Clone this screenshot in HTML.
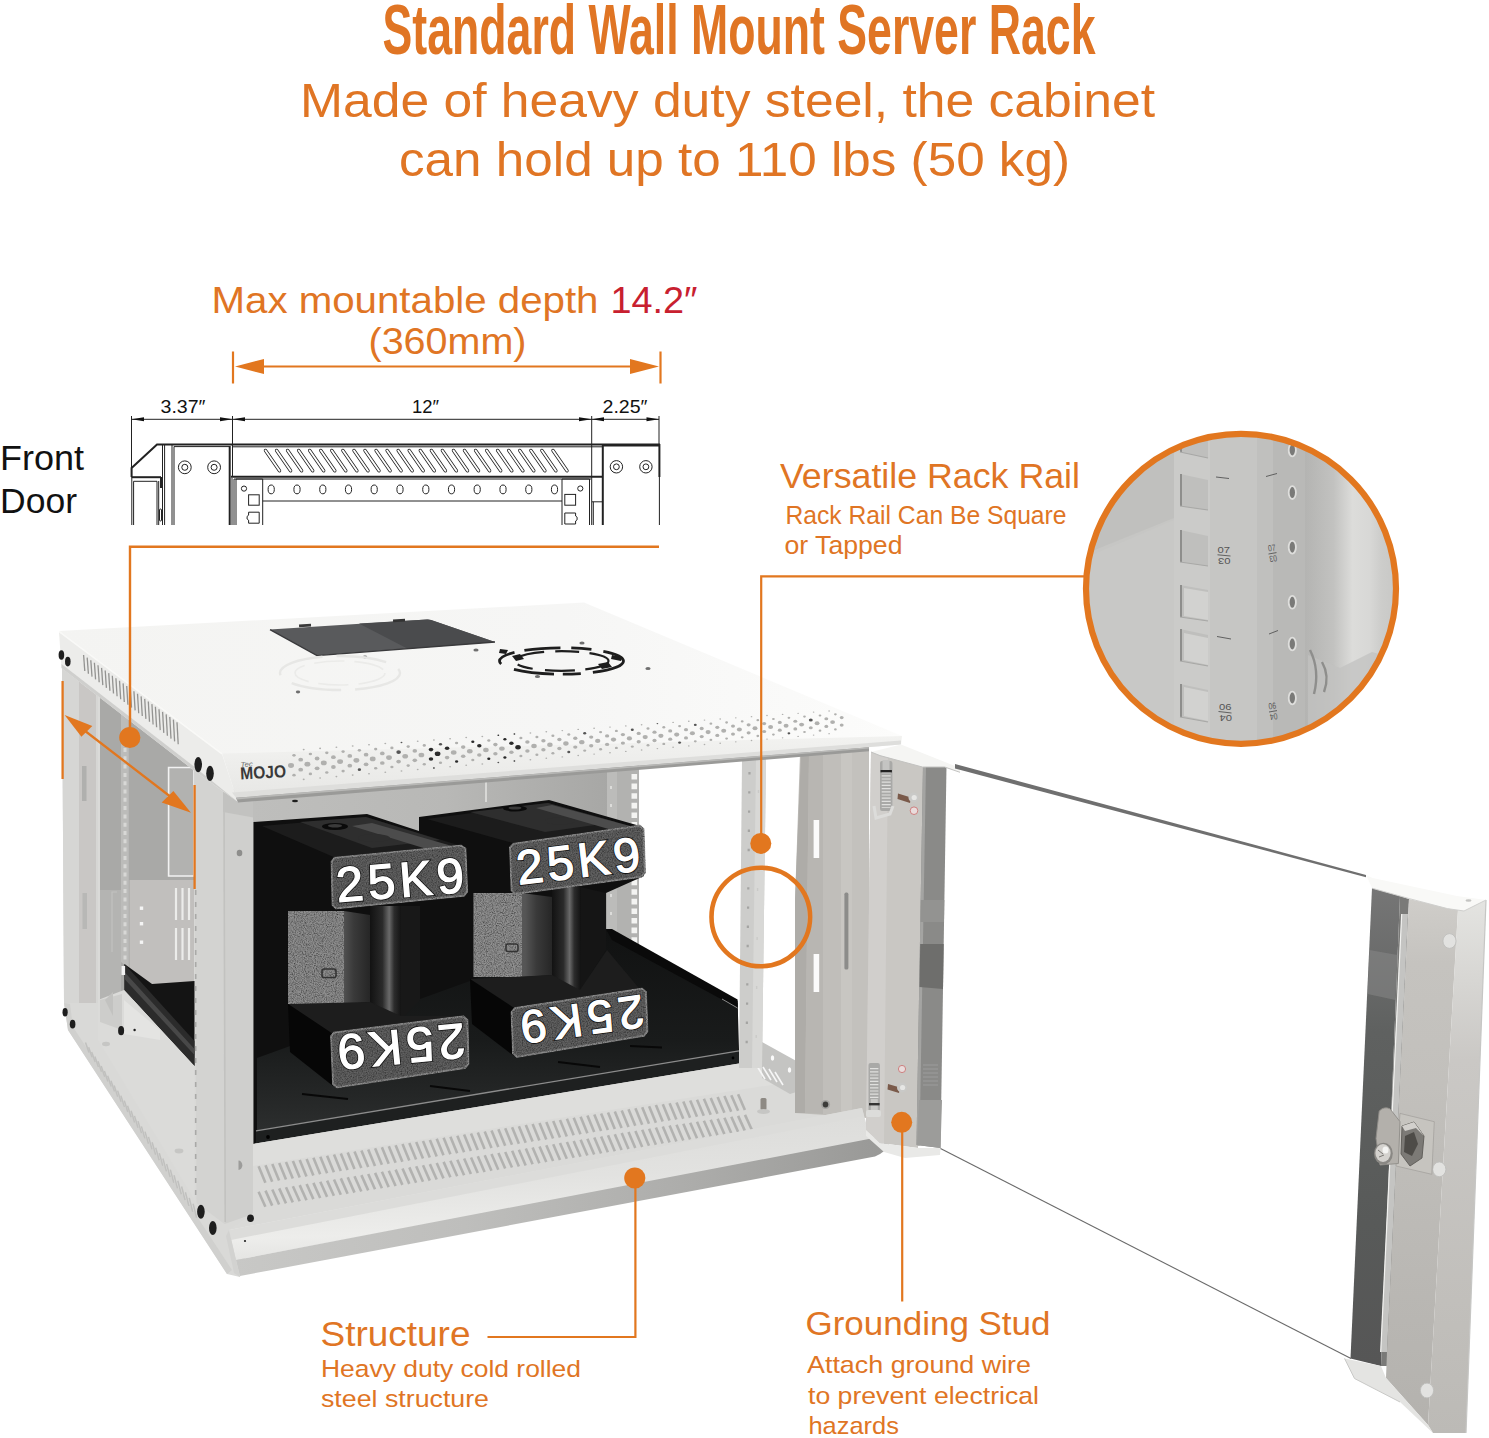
<!DOCTYPE html>
<html lang="en">
<head>
<meta charset="utf-8">
<title>Standard Wall Mount Server Rack</title>
<style>
html,body{margin:0;padding:0;background:#fff;}
body{width:1489px;height:1438px;overflow:hidden;position:relative;font-family:"Liberation Sans",sans-serif;}
svg{position:absolute;left:0;top:0;display:block;}
.o{fill:#e07524;}
.os{stroke:#e2771f;fill:none;}
.of{fill:#e2771f;}
text{font-family:"Liberation Sans",sans-serif;}
.k{stroke:#222;fill:none;stroke-width:1;}
.kt{stroke:#222;fill:none;stroke-width:2;}
</style>
</head>
<body>
<svg width="1489" height="1438" viewBox="0 0 1489 1438">
<rect x="0" y="0" width="1489" height="1438" fill="#ffffff"/>
<defs>
<linearGradient id="gShelf" x1="0" y1="0" x2="0" y2="1">
<stop offset="0" stop-color="#111212"/><stop offset="0.55" stop-color="#191b1b"/><stop offset="1" stop-color="#2c2e2e"/>
</linearGradient>
<linearGradient id="gLip" x1="0" y1="0" x2="0.12" y2="1">
<stop offset="0" stop-color="#dadad8"/><stop offset="0.5" stop-color="#e2e2e0"/><stop offset="0.85" stop-color="#ededeb"/><stop offset="1" stop-color="#e4e4e2"/>
</linearGradient>
<linearGradient id="gTopLip" x1="0" y1="0" x2="0.08" y2="1">
<stop offset="0" stop-color="#f3f3f1"/><stop offset="1" stop-color="#e6e6e4"/>
</linearGradient>
<linearGradient id="gGlassL" x1="0" y1="0" x2="1" y2="0">
<stop offset="0" stop-color="#8e8e8e"/><stop offset="1" stop-color="#bdbdbd"/>
</linearGradient>
<linearGradient id="gGlassR" x1="0" y1="0" x2="0" y2="1">
<stop offset="0" stop-color="#767676"/><stop offset="0.3" stop-color="#5f6160"/><stop offset="0.7" stop-color="#585a59"/><stop offset="1" stop-color="#565656"/>
</linearGradient>
<linearGradient id="gFrIn" gradientUnits="userSpaceOnUse" x1="0" y1="900" x2="0" y2="1425">
<stop offset="0" stop-color="#cfcdc9"/><stop offset="0.12" stop-color="#c5c3bf"/><stop offset="0.35" stop-color="#c2c0bc"/><stop offset="0.8" stop-color="#b8b6b2"/><stop offset="1" stop-color="#b4b2ae"/>
</linearGradient>
<linearGradient id="gFrEd" gradientUnits="userSpaceOnUse" x1="0" y1="900" x2="0" y2="1433">
<stop offset="0" stop-color="#e4e4e1"/><stop offset="0.3" stop-color="#cac8c5"/><stop offset="0.8" stop-color="#c0beba"/><stop offset="1" stop-color="#bcbab6"/>
</linearGradient>
<linearGradient id="gCol" x1="0" y1="0" x2="1" y2="0">
<stop offset="0" stop-color="#121212"/><stop offset="0.4" stop-color="#2a2a2a"/><stop offset="0.62" stop-color="#6a6a6a"/><stop offset="0.78" stop-color="#2c2c2c"/><stop offset="1" stop-color="#141414"/>
</linearGradient>
<linearGradient id="gWeb" x1="0" y1="0" x2="1" y2="0">
<stop offset="0" stop-color="#6e6e6e"/><stop offset="0.66" stop-color="#555"/><stop offset="0.8" stop-color="#3a3a3a"/><stop offset="1" stop-color="#262626"/>
</linearGradient>
<linearGradient id="gMagBg" x1="0" y1="0" x2="1" y2="0">
<stop offset="0" stop-color="#c4c4c2"/><stop offset="1" stop-color="#c8c8c6"/>
</linearGradient>
<linearGradient id="gMagR" gradientUnits="userSpaceOnUse" x1="1305" y1="0" x2="1400" y2="0">
<stop offset="0" stop-color="#b4b4b2"/><stop offset="0.3" stop-color="#c2c2c0"/><stop offset="0.5" stop-color="#dcdcda"/><stop offset="0.68" stop-color="#d8d8d6"/><stop offset="0.8" stop-color="#cdcdcb"/><stop offset="1" stop-color="#c6c6c4"/>
</linearGradient>
<linearGradient id="gTop" x1="0" y1="0" x2="1" y2="0">
<stop offset="0" stop-color="#f4f4f2"/><stop offset="0.6" stop-color="#f6f6f5"/><stop offset="1" stop-color="#fcfcfb"/>
</linearGradient>
<linearGradient id="gUnder" gradientUnits="userSpaceOnUse" x1="236" y1="0" x2="890" y2="0">
<stop offset="0" stop-color="#c8c8c6"/><stop offset="0.35" stop-color="#bebebc"/><stop offset="0.7" stop-color="#acacaa"/><stop offset="1" stop-color="#989896"/>
</linearGradient>
<linearGradient id="gInt" gradientUnits="userSpaceOnUse" x1="253" y1="0" x2="639" y2="0">
<stop offset="0" stop-color="#bebebc"/><stop offset="0.5" stop-color="#b8b8b6"/><stop offset="1" stop-color="#a4a4a2"/>
</linearGradient>
<clipPath id="cMag"><circle cx="1241" cy="588.8" r="155"/></clipPath>
<filter id="fNoise" x="0" y="0" width="100%" height="100%">
<feTurbulence type="fractalNoise" baseFrequency="0.9" numOctaves="2" seed="3" result="n"/>
<feColorMatrix in="n" type="matrix" values="0 0 0 0 0  0 0 0 0 0  0 0 0 0 0  1.6 0 0 0 -0.55" result="a"/>
<feFlood flood-color="#1a1a1a" result="f"/>
<feComposite in="f" in2="a" operator="in" result="sp"/>
<feMerge><feMergeNode in="SourceGraphic"/><feMergeNode in="sp"/></feMerge>
<feComposite in2="SourceGraphic" operator="in"/>
</filter>
<filter id="fNoise2" x="-2%" y="-2%" width="104%" height="104%">
<feTurbulence type="fractalNoise" baseFrequency="0.8" numOctaves="2" seed="9" result="n"/>
<feColorMatrix in="n" type="matrix" values="0 0 0 0 0  0 0 0 0 0  0 0 0 0 0  1.5 0 0 0 -0.5" result="a"/>
<feFlood flood-color="#161616" result="f"/>
<feComposite in="f" in2="a" operator="in" result="sp"/>
<feMerge><feMergeNode in="SourceGraphic"/><feMergeNode in="sp"/></feMerge>
<feComposite in2="SourceGraphic" operator="in"/>
</filter>
</defs>
<!-- ================= CABINET : LEFT SIDE ================= -->
<g id="cab-left">
<!-- floor / base seen through the open side -->
<polygon points="62,668 196,770 256,800 256,1215 240,1277 227,1274 68,1030 64,1003" fill="#d9d9d7"/>
<!-- silhouette shade band along bottom-left edge -->
<polygon points="64,1003 68,1030 227,1274 232,1270 73,1027 70,1004" fill="#d0d0ce"/>
<!-- grey interior wall -->
<polygon points="98,696 194,770 194,1000 98,1000" fill="#a9a9a7"/>
<polygon points="129.6,880 194,880 194,985 152,984 129.6,968" fill="#c1bfbd"/>
<polygon points="98,696 121,713 121,1000 98,1000" fill="#a9a9a7"/>
<polygon points="98,890 121,890 121,1000 98,1000" fill="#b4b4b2"/>
<polygon points="96,694 100,697 100,1000 96,1000" fill="#dadad8"/>
<!-- white outlined rectangle on back wall -->
<polygon points="168.6,767.5 194,767.5 194,876 168.6,876" fill="#b2b2b0" stroke="#f2f2f2" stroke-width="1.6"/>
<!-- vertical slots on back wall -->
<g stroke="#ececea" stroke-width="2.2">
<line x1="176" y1="888" x2="176" y2="920"/><line x1="182.5" y1="888" x2="182.5" y2="920"/><line x1="189" y1="888" x2="189" y2="920"/>
<line x1="176" y1="928" x2="176" y2="960"/><line x1="182.5" y1="928" x2="182.5" y2="960"/><line x1="189" y1="928" x2="189" y2="960"/>
</g>
<rect x="139.8" y="906.5" width="3.4" height="3.4" fill="#f4f4f4"/><rect x="139.8" y="922" width="3.4" height="3.4" fill="#f4f4f4"/><rect x="139.8" y="940.5" width="3.4" height="3.4" fill="#f4f4f4"/>
<path d="M117,892 h-5 v60" stroke="#c2c2c0" stroke-width="1.2" fill="none"/>
<!-- left inner rail -->
<polygon points="121,713 128.8,719 128.8,968 121,962" fill="#bcbcba"/>
<line x1="125" y1="748" x2="125" y2="962" stroke="#d8d8d6" stroke-width="3" stroke-dasharray="4 4.3"/>
<!-- black shelf seen through the side -->
<polygon points="124.5,964 152,984 194.5,981 194.5,1066 124.5,990" fill="#141414"/>
<polygon points="124.5,964 194.5,1041 194.5,1066 124.5,990" fill="#2b2b2b"/>
<polygon points="124.5,972 194.5,1049 194.5,1055 124.5,979" fill="#484848"/>
<rect x="121.5" y="966" width="3.6" height="9" fill="#f2f2f2"/>
<!-- floor below the shelf / inner base -->
<polygon points="98,1000 124,990 194.5,1066 194.5,1200 98,1040" fill="#dbdbd9"/>
<polygon points="100,1000 122,994 122,1030 100,1022" fill="#cdcdcb"/>
<polygon points="105,1000 113,1016 113,992" fill="#c2c2c0"/>
<polygon points="124,1000 160,1030 160,1040 124,1034" fill="#e4e4e2"/>
<!-- back-left post -->
<polygon points="62,668 98,696 98,1003 64,1003" fill="#d6d6d4"/>
<polygon points="79,681 96,694 96,1003 79,1003" fill="#c9c7c5"/>
<rect x="82" y="766" width="4.5" height="35" fill="#b0b0ae"/>
<rect x="82.5" y="893" width="4.5" height="36" fill="#b8b8b6"/>
<!-- floor vents on left base -->
<g stroke="#c0c0be" stroke-width="1.5">
<line x1="85.5" y1="1042.6" x2="89.0" y2="1052.6"/>
<line x1="88.6" y1="1047.2" x2="92.1" y2="1057.3"/>
<line x1="91.7" y1="1051.9" x2="95.2" y2="1062.1"/>
<line x1="94.9" y1="1056.6" x2="98.4" y2="1066.9"/>
<line x1="98.0" y1="1061.3" x2="101.5" y2="1071.8"/>
<line x1="101.2" y1="1066.1" x2="104.7" y2="1076.7"/>
<line x1="104.4" y1="1070.9" x2="107.9" y2="1081.6"/>
<line x1="107.7" y1="1075.8" x2="111.2" y2="1086.6"/>
<line x1="111.0" y1="1080.7" x2="114.5" y2="1091.6"/>
<line x1="114.2" y1="1085.6" x2="117.7" y2="1096.7"/>
<line x1="117.6" y1="1090.6" x2="121.1" y2="1101.8"/>
<line x1="120.9" y1="1095.6" x2="124.4" y2="1106.9"/>
<line x1="124.3" y1="1100.6" x2="127.8" y2="1112.0"/>
<line x1="127.6" y1="1105.7" x2="131.1" y2="1117.2"/>
<line x1="131.1" y1="1110.8" x2="134.6" y2="1122.5"/>
<line x1="134.5" y1="1115.9" x2="138.0" y2="1127.8"/>
<line x1="138.0" y1="1121.1" x2="141.5" y2="1133.1"/>
<line x1="141.4" y1="1126.4" x2="144.9" y2="1138.4"/>
<line x1="145.0" y1="1131.6" x2="148.5" y2="1143.8"/>
<line x1="148.5" y1="1136.9" x2="152.0" y2="1149.3"/>
<line x1="152.1" y1="1142.3" x2="155.6" y2="1154.7"/>
<line x1="155.7" y1="1147.7" x2="159.2" y2="1160.2"/>
<line x1="159.3" y1="1153.1" x2="162.8" y2="1165.8"/>
<line x1="162.9" y1="1158.5" x2="166.4" y2="1171.4"/>
<line x1="166.6" y1="1164.0" x2="170.1" y2="1177.0"/>
<line x1="170.3" y1="1169.6" x2="173.8" y2="1182.7"/>
<line x1="174.0" y1="1175.2" x2="177.5" y2="1188.4"/>
<line x1="177.8" y1="1180.8" x2="181.3" y2="1194.2"/>
<line x1="181.6" y1="1186.5" x2="185.1" y2="1200.0"/>
<line x1="185.4" y1="1192.2" x2="188.9" y2="1205.9"/>
<line x1="189.2" y1="1197.9" x2="192.7" y2="1211.8"/>
<line x1="193.1" y1="1203.7" x2="196.6" y2="1217.7"/>
</g>
<!-- front-left post : side face -->
<polygon points="194,770 223,792 224.5,1224 196.5,1203" fill="#d3d3d1"/>
<line x1="195.7" y1="890" x2="195.7" y2="1200" stroke="#a9a9a7" stroke-width="1.6" stroke-dasharray="5 7"/>
<!-- front-left post : front face -->
<polygon points="223,792 256,800 256,1213 224.5,1224" fill="#cfcfcd"/>
<polygon points="223,792 256,800 256,818 223,812" fill="#c2c2c0"/>
<line x1="224" y1="796" x2="225.2" y2="1222" stroke="#c2c2c0" stroke-width="1.6"/>
<ellipse cx="239.5" cy="853" rx="2.8" ry="3.2" fill="#8e8e8c"/>
<path d="M238.5 1160.5 a3.6 4.4 0 0 1 0 9.4z" fill="#9c9c9a"/>
<g fill="#c6c6c4">
<ellipse cx="106" cy="1044" rx="4" ry="2.2"/><ellipse cx="179" cy="1151" rx="4.4" ry="2.4"/>
</g>
</g>
<!-- ================= CABINET : FRONT INTERIOR ================= -->
<g id="cab-front">
<!-- interior background (back wall), only up to the far rail -->
<polygon points="253,798 639,765 639,1000 253,1150" fill="url(#gInt)"/>
<!-- far (back-right) rail -->
<rect x="607" y="768" width="32" height="180" fill="#b2b2b0"/>
<rect x="607" y="768" width="10" height="180" fill="#bcbcba"/>
<line x1="634.3" y1="774" x2="634.3" y2="945" stroke="#f4f4f2" stroke-width="5.6" stroke-dasharray="5.6 4"/>
<line x1="611" y1="786" x2="611" y2="945" stroke="#dcdcda" stroke-width="2" stroke-dasharray="3 15"/>
<line x1="486" y1="778" x2="486" y2="802" stroke="#e4e4e2" stroke-width="1.5"/>
<!-- main dark mass (weights + interior shadow) -->
<polygon points="253.5,822 367,814 419,831 419,817 549,800 641.8,826.4 644,876 606,893 606,929 608.4,929 737.6,1001 739,1050.5 739,1064 256,1144.5 253.5,1144.5" fill="#0f0f0f"/>
<!-- shelf top surface -->
<polygon points="257,1058 608.4,931 737.6,1003 738,1050.5 257,1130.5" fill="url(#gShelf)"/>
<!-- shelf right side wall -->
<polygon points="606,929 612,929 737.6,999.5 737.6,1008 612,940" fill="#0a0a0a"/>
<line x1="722" y1="999" x2="737.6" y2="1008" stroke="#8a8a8a" stroke-width="1"/>
<!-- shelf front lip -->
<polygon points="256,1130.5 739,1050.5 739,1064 256,1144.5" fill="#1e2020"/>
<line x1="256" y1="1130.8" x2="739" y2="1050.8" stroke="#8c8c8c" stroke-width="1.3"/>
<circle cx="268" cy="1137" r="1.9" fill="#000"/><circle cx="733" cy="1058" r="1.4" fill="#000"/>
<!-- shelf slots -->
<g stroke="#080808" stroke-width="1.8">
<line x1="302" y1="1094" x2="348" y2="1099"/><line x1="430" y1="1086" x2="470" y2="1091"/><line x1="558" y1="1062" x2="600" y2="1067"/><line x1="630" y1="1046" x2="662" y2="1047.5"/>
</g>

<!-- ===== weight 1 (left) ===== -->
<polygon points="262,826 366,817 458,845 336,858" fill="#1c1c1c"/>
<polygon points="300,822 366,817 440,840 372,848" fill="#2e2e2e"/>
<polygon points="352,826 372,823 452,846 430,850" fill="#4c4c4c"/>
<ellipse cx="335" cy="826.5" rx="13" ry="3.4" fill="#0a0a0a"/><ellipse cx="335" cy="825.8" rx="7" ry="1.8" fill="#3a3a3a"/>
<ellipse cx="374" cy="838" rx="16" ry="4" fill="#2e2e2e"/>
<!-- web -->
<polygon points="288,911 344,911 370,915 370,1002 344,1004 288,1004" fill="url(#gWeb)"/>
<polygon points="288,911 344,911 344,1004 288,1004" fill="#8e8e8e" filter="url(#fNoise)"/>
<rect x="322" y="969" width="14" height="8.5" rx="2" fill="none" stroke="#333" stroke-width="1.6"/>
<!-- column -->
<rect x="370" y="906" width="31" height="116" fill="url(#gCol)"/>
<polygon points="401,906 420,906 420,1000 401,1020" fill="#181818"/>
<!-- base -->
<polygon points="288,1004 370,1002 401,1016 466,1016 466,1019 333,1034" fill="#1d1d1d"/>
<polygon points="288,1004 333,1034 333,1086 290,1052" fill="#060606"/>
<!-- top label plate -->
<polygon points="334.5,857.8 461,845.5 465.5,848.5 467.2,892 464,895.8 336,908.5 332.5,905 331.5,861.5" fill="#626262" stroke="#8c8c8c" stroke-width="2" filter="url(#fNoise2)"/>
<text transform="translate(337.5,902) rotate(-4.6)" font-size="49" fill="#111" stroke="#151515" stroke-width="3" textLength="128" lengthAdjust="spacing">25K9</text>
<text transform="translate(337.5,902) rotate(-4.6)" font-size="49" fill="#ffffff" stroke="#ffffff" stroke-width="1.3" textLength="128" lengthAdjust="spacing">25K9</text>
<!-- bottom label plate -->
<polygon points="334,1032.5 463.5,1016.2 467.5,1020 468.5,1064 465,1068 337,1087.5 333,1084 331,1036" fill="#626262" stroke="#8c8c8c" stroke-width="2" filter="url(#fNoise2)"/>
<text transform="translate(463.5,1023.5) rotate(174.4)" font-size="49" fill="#111" stroke="#151515" stroke-width="3" textLength="128" lengthAdjust="spacing">25K9</text>
<text transform="translate(463.5,1023.5) rotate(174.4)" font-size="49" fill="#ffffff" stroke="#ffffff" stroke-width="1.3" textLength="128" lengthAdjust="spacing">25K9</text>

<!-- ===== weight 2 (right) ===== -->
<polygon points="427,819 548,803 634,827 513,843" fill="#1c1c1c"/>
<polygon points="470,812 548,803 616,822 545,832" fill="#2e2e2e"/>
<polygon points="536,808 552,805 630,826 612,830" fill="#4c4c4c"/>
<ellipse cx="515" cy="808.5" rx="12" ry="3" fill="#0a0a0a"/><ellipse cx="515" cy="808" rx="6.5" ry="1.6" fill="#3a3a3a"/>
<ellipse cx="560" cy="821" rx="15" ry="3.6" fill="#2e2e2e"/>
<!-- web -->
<polygon points="473.5,893 522,893 552,897 552,975 522,977 473.5,977" fill="url(#gWeb)"/>
<polygon points="473.5,893 522,893 522,977 473.5,977" fill="#909090" filter="url(#fNoise)"/>
<rect x="506" y="944" width="12" height="7.5" rx="2" fill="none" stroke="#333" stroke-width="1.5"/>
<!-- column -->
<rect x="552" y="887" width="28.5" height="108" fill="url(#gCol)"/>
<polygon points="580.5,887 606,893 606,950 580.5,990" fill="#151515"/>
<!-- base -->
<polygon points="470,979 552,975 580,990 607,950 640.5,990 644,992 514,1008" fill="#1d1d1d"/>
<polygon points="470,979 514,1008 514,1056 472,1024" fill="#060606"/>
<!-- top label plate -->
<polygon points="513.5,843.8 639.5,825.6 643.5,829 645,872.5 641.5,876.8 515.5,894 511.5,890.5 510,847.5" fill="#626262" stroke="#8c8c8c" stroke-width="2" filter="url(#fNoise2)"/>
<text transform="translate(518.5,884.5) rotate(-6.7)" font-size="48" fill="#111" stroke="#151515" stroke-width="3" textLength="124" lengthAdjust="spacing">25K9</text>
<text transform="translate(518.5,884.5) rotate(-6.7)" font-size="48" fill="#ffffff" stroke="#ffffff" stroke-width="1.3" textLength="124" lengthAdjust="spacing">25K9</text>
<!-- bottom label plate -->
<polygon points="515,1008 642,988.6 646,992 647.5,1031.5 644,1035.8 517,1057 513,1053.5 511.5,1012" fill="#626262" stroke="#8c8c8c" stroke-width="2" filter="url(#fNoise2)"/>
<text transform="translate(641.5,995) rotate(172)" font-size="46" fill="#111" stroke="#151515" stroke-width="3" textLength="124" lengthAdjust="spacing">25K9</text>
<text transform="translate(641.5,995) rotate(172)" font-size="46" fill="#ffffff" stroke="#ffffff" stroke-width="1.3" textLength="124" lengthAdjust="spacing">25K9</text>
</g>
<!-- ================= CABINET : RIGHT SIDE + BOTTOM ================= -->
<g id="cab-right">
<!-- bottom panel top surface -->
<polygon points="253,1144 739,1063.5 766,1058 800,1090 864,1112 864,1128 229,1230 253,1213" fill="#dadad8"/>
<polygon points="253,1144 739,1063.5 766,1058 790,1082 253,1166" fill="#dededc"/>
<g stroke="#b2b2b0" stroke-width="2.6">
<line x1="258.6" y1="1166.2" x2="265.4" y2="1182.7"/>
<line x1="265.5" y1="1165.2" x2="272.2" y2="1181.7"/>
<line x1="272.3" y1="1164.1" x2="279.1" y2="1180.6"/>
<line x1="279.2" y1="1163.1" x2="286.0" y2="1179.6"/>
<line x1="286.0" y1="1162.0" x2="292.8" y2="1178.5"/>
<line x1="292.9" y1="1161.0" x2="299.7" y2="1177.5"/>
<line x1="299.7" y1="1159.9" x2="306.5" y2="1176.4"/>
<line x1="306.6" y1="1158.9" x2="313.4" y2="1175.4"/>
<line x1="313.4" y1="1157.8" x2="320.2" y2="1174.3"/>
<line x1="320.3" y1="1156.7" x2="327.1" y2="1173.2"/>
<line x1="327.1" y1="1155.7" x2="333.9" y2="1172.2"/>
<line x1="334.0" y1="1154.6" x2="340.8" y2="1171.1"/>
<line x1="340.8" y1="1153.6" x2="347.6" y2="1170.1"/>
<line x1="347.7" y1="1152.5" x2="354.5" y2="1169.0"/>
<line x1="354.5" y1="1151.5" x2="361.3" y2="1168.0"/>
<line x1="361.4" y1="1150.4" x2="368.2" y2="1166.9"/>
<line x1="368.2" y1="1149.4" x2="375.0" y2="1165.9"/>
<line x1="375.1" y1="1148.3" x2="381.9" y2="1164.8"/>
<line x1="381.9" y1="1147.3" x2="388.7" y2="1163.8"/>
<line x1="388.8" y1="1146.2" x2="395.6" y2="1162.7"/>
<line x1="395.6" y1="1145.2" x2="402.4" y2="1161.7"/>
<line x1="402.5" y1="1144.1" x2="409.3" y2="1160.6"/>
<line x1="409.3" y1="1143.0" x2="416.1" y2="1159.5"/>
<line x1="416.2" y1="1142.0" x2="423.0" y2="1158.5"/>
<line x1="423.0" y1="1140.9" x2="429.8" y2="1157.4"/>
<line x1="429.9" y1="1139.9" x2="436.7" y2="1156.4"/>
<line x1="436.7" y1="1138.8" x2="443.5" y2="1155.3"/>
<line x1="443.6" y1="1137.8" x2="450.4" y2="1154.3"/>
<line x1="450.4" y1="1136.7" x2="457.2" y2="1153.2"/>
<line x1="457.3" y1="1135.7" x2="464.1" y2="1152.2"/>
<line x1="464.1" y1="1134.6" x2="470.9" y2="1151.1"/>
<line x1="471.0" y1="1133.6" x2="477.8" y2="1150.1"/>
<line x1="477.8" y1="1132.5" x2="484.6" y2="1149.0"/>
<line x1="484.7" y1="1131.5" x2="491.5" y2="1148.0"/>
<line x1="491.5" y1="1130.4" x2="498.3" y2="1146.9"/>
<line x1="498.4" y1="1129.3" x2="505.2" y2="1145.8"/>
<line x1="505.2" y1="1128.3" x2="512.0" y2="1144.8"/>
<line x1="512.1" y1="1127.2" x2="518.9" y2="1143.7"/>
<line x1="518.9" y1="1126.2" x2="525.7" y2="1142.7"/>
<line x1="525.8" y1="1125.1" x2="532.6" y2="1141.6"/>
<line x1="532.6" y1="1124.1" x2="539.4" y2="1140.6"/>
<line x1="539.5" y1="1123.0" x2="546.3" y2="1139.5"/>
<line x1="546.3" y1="1122.0" x2="553.1" y2="1138.5"/>
<line x1="553.2" y1="1120.9" x2="560.0" y2="1137.4"/>
<line x1="560.0" y1="1119.9" x2="566.8" y2="1136.4"/>
<line x1="566.9" y1="1118.8" x2="573.7" y2="1135.3"/>
<line x1="573.7" y1="1117.8" x2="580.5" y2="1134.3"/>
<line x1="580.6" y1="1116.7" x2="587.4" y2="1133.2"/>
<line x1="587.4" y1="1115.6" x2="594.2" y2="1132.1"/>
<line x1="594.3" y1="1114.6" x2="601.1" y2="1131.1"/>
<line x1="601.1" y1="1113.5" x2="607.9" y2="1130.0"/>
<line x1="608.0" y1="1112.5" x2="614.8" y2="1129.0"/>
<line x1="614.8" y1="1111.4" x2="621.6" y2="1127.9"/>
<line x1="621.7" y1="1110.4" x2="628.5" y2="1126.9"/>
<line x1="628.5" y1="1109.3" x2="635.3" y2="1125.8"/>
<line x1="635.4" y1="1108.3" x2="642.2" y2="1124.8"/>
<line x1="642.2" y1="1107.2" x2="649.0" y2="1123.7"/>
<line x1="649.1" y1="1106.2" x2="655.9" y2="1122.7"/>
<line x1="655.9" y1="1105.1" x2="662.7" y2="1121.6"/>
<line x1="662.8" y1="1104.2" x2="669.6" y2="1120.6"/>
<line x1="669.6" y1="1103.3" x2="676.4" y2="1119.6"/>
<line x1="676.5" y1="1102.4" x2="683.3" y2="1118.7"/>
<line x1="683.3" y1="1101.5" x2="690.1" y2="1117.7"/>
<line x1="690.2" y1="1100.6" x2="697.0" y2="1116.7"/>
<line x1="697.0" y1="1099.7" x2="703.8" y2="1115.7"/>
<line x1="703.9" y1="1098.8" x2="710.7" y2="1114.7"/>
<line x1="710.7" y1="1097.9" x2="717.5" y2="1113.8"/>
<line x1="717.6" y1="1097.0" x2="724.4" y2="1112.8"/>
<line x1="724.4" y1="1096.1" x2="731.2" y2="1111.8"/>
<line x1="731.3" y1="1095.2" x2="738.1" y2="1110.8"/>
<line x1="738.1" y1="1094.3" x2="744.9" y2="1109.9"/>
<line x1="258.6" y1="1191.7" x2="265.4" y2="1206.7"/>
<line x1="265.5" y1="1190.6" x2="272.2" y2="1205.6"/>
<line x1="272.3" y1="1189.5" x2="279.1" y2="1204.5"/>
<line x1="279.2" y1="1188.4" x2="286.0" y2="1203.4"/>
<line x1="286.0" y1="1187.3" x2="292.8" y2="1202.4"/>
<line x1="292.9" y1="1186.2" x2="299.7" y2="1201.3"/>
<line x1="299.7" y1="1185.1" x2="306.5" y2="1200.2"/>
<line x1="306.6" y1="1184.0" x2="313.4" y2="1199.1"/>
<line x1="313.4" y1="1182.9" x2="320.2" y2="1198.0"/>
<line x1="320.3" y1="1181.8" x2="327.1" y2="1196.9"/>
<line x1="327.1" y1="1180.6" x2="333.9" y2="1195.8"/>
<line x1="334.0" y1="1179.5" x2="340.8" y2="1194.7"/>
<line x1="340.8" y1="1178.4" x2="347.6" y2="1193.7"/>
<line x1="347.7" y1="1177.3" x2="354.5" y2="1192.6"/>
<line x1="354.5" y1="1176.2" x2="361.3" y2="1191.5"/>
<line x1="361.4" y1="1175.1" x2="368.2" y2="1190.4"/>
<line x1="368.2" y1="1174.0" x2="375.0" y2="1189.3"/>
<line x1="375.1" y1="1172.9" x2="381.9" y2="1188.2"/>
<line x1="381.9" y1="1171.8" x2="388.7" y2="1187.1"/>
<line x1="388.8" y1="1170.7" x2="395.6" y2="1186.0"/>
<line x1="395.6" y1="1169.6" x2="402.4" y2="1184.9"/>
<line x1="402.5" y1="1168.5" x2="409.3" y2="1183.9"/>
<line x1="409.3" y1="1167.4" x2="416.1" y2="1182.8"/>
<line x1="416.2" y1="1166.3" x2="423.0" y2="1181.7"/>
<line x1="423.0" y1="1165.2" x2="429.8" y2="1180.6"/>
<line x1="429.9" y1="1164.1" x2="436.7" y2="1179.5"/>
<line x1="436.7" y1="1163.0" x2="443.5" y2="1178.4"/>
<line x1="443.6" y1="1161.9" x2="450.4" y2="1177.3"/>
<line x1="450.4" y1="1160.8" x2="457.2" y2="1176.2"/>
<line x1="457.3" y1="1159.7" x2="464.1" y2="1175.2"/>
<line x1="464.1" y1="1158.5" x2="470.9" y2="1174.1"/>
<line x1="471.0" y1="1157.4" x2="477.8" y2="1173.0"/>
<line x1="477.8" y1="1156.3" x2="484.6" y2="1171.9"/>
<line x1="484.7" y1="1155.2" x2="491.5" y2="1170.8"/>
<line x1="491.5" y1="1154.1" x2="498.3" y2="1169.7"/>
<line x1="498.4" y1="1153.0" x2="505.2" y2="1168.6"/>
<line x1="505.2" y1="1151.9" x2="512.0" y2="1167.5"/>
<line x1="512.1" y1="1150.8" x2="518.9" y2="1166.5"/>
<line x1="518.9" y1="1149.7" x2="525.7" y2="1165.4"/>
<line x1="525.8" y1="1148.6" x2="532.6" y2="1164.3"/>
<line x1="532.6" y1="1147.5" x2="539.4" y2="1163.2"/>
<line x1="539.5" y1="1146.4" x2="546.3" y2="1162.1"/>
<line x1="546.3" y1="1145.3" x2="553.1" y2="1161.0"/>
<line x1="553.2" y1="1144.2" x2="560.0" y2="1159.9"/>
<line x1="560.0" y1="1143.1" x2="566.8" y2="1158.8"/>
<line x1="566.9" y1="1142.0" x2="573.7" y2="1157.8"/>
<line x1="573.7" y1="1140.9" x2="580.5" y2="1156.7"/>
<line x1="580.6" y1="1139.8" x2="587.4" y2="1155.6"/>
<line x1="587.4" y1="1138.7" x2="594.2" y2="1154.5"/>
<line x1="594.3" y1="1137.6" x2="601.1" y2="1153.4"/>
<line x1="601.1" y1="1136.5" x2="607.9" y2="1152.3"/>
<line x1="608.0" y1="1135.3" x2="614.8" y2="1151.2"/>
<line x1="614.8" y1="1134.2" x2="621.6" y2="1150.1"/>
<line x1="621.7" y1="1133.1" x2="628.5" y2="1149.1"/>
<line x1="628.5" y1="1132.0" x2="635.3" y2="1148.0"/>
<line x1="635.4" y1="1130.9" x2="642.2" y2="1146.9"/>
<line x1="642.2" y1="1129.8" x2="649.0" y2="1145.8"/>
<line x1="649.1" y1="1128.7" x2="655.9" y2="1144.7"/>
<line x1="655.9" y1="1127.6" x2="662.7" y2="1143.6"/>
<line x1="662.8" y1="1126.6" x2="669.6" y2="1142.5"/>
<line x1="669.6" y1="1125.6" x2="676.4" y2="1141.5"/>
<line x1="676.5" y1="1124.7" x2="683.3" y2="1140.4"/>
<line x1="683.3" y1="1123.7" x2="690.1" y2="1139.4"/>
<line x1="690.2" y1="1122.7" x2="697.0" y2="1138.3"/>
<line x1="697.0" y1="1121.7" x2="703.8" y2="1137.2"/>
<line x1="703.9" y1="1120.7" x2="710.7" y2="1136.2"/>
<line x1="710.7" y1="1119.8" x2="717.5" y2="1135.1"/>
<line x1="717.6" y1="1118.8" x2="724.4" y2="1134.1"/>
<line x1="724.4" y1="1117.8" x2="731.2" y2="1133.0"/>
<line x1="731.3" y1="1116.8" x2="738.1" y2="1131.9"/>
<line x1="738.1" y1="1115.9" x2="744.9" y2="1130.9"/>
<line x1="745.0" y1="1114.9" x2="751.8" y2="1129.8"/>
</g>
<!-- L bracket at rail bottom -->
<polygon points="762,1042 802.7,1064.5 802.7,1090 790,1094 762,1078" fill="#c4c4c2"/>
<polygon points="797.5,1062 802.7,1064.5 802.7,1090 797.5,1088" fill="#fafafa"/>
<g stroke="#f6f6f6" stroke-width="1.6"><line x1="757" y1="1066" x2="765" y2="1079"/><line x1="763" y1="1067" x2="771" y2="1080"/><line x1="769" y1="1069" x2="777" y2="1082"/><line x1="775" y1="1072" x2="783" y2="1085"/></g>
<ellipse cx="772.5" cy="1058" rx="1.7" ry="2.8" fill="#fafafa"/><ellipse cx="789.5" cy="1070" rx="1.7" ry="2.8" fill="#fafafa"/>
<!-- small bolt on floor -->
<rect x="760.5" y="1098" width="6" height="12" rx="1.5" fill="#8e8a84"/><ellipse cx="763.5" cy="1111.5" rx="6.5" ry="2.4" fill="#c6c6c4"/>
<!-- front-right rail -->
<polygon points="742,760 766,758 762,1068 739,1068" fill="#cdcdcb"/>
<polygon points="756,759 766,758 762,1068 752,1068" fill="#d8d8d6"/>
<line x1="749.5" y1="772" x2="746.5" y2="1060" stroke="#a4a4a2" stroke-width="2.2" stroke-dasharray="2.4 16.8"/>
<line x1="758.5" y1="790" x2="756" y2="1060" stroke="#cacac8" stroke-width="1.4" stroke-dasharray="3 46"/>
<!-- right post -->
<polygon points="800,754 869,747 869,1118 795,1113 795,900" fill="#c0beba"/>
<polygon points="801,754 809,753.3 805,1113 795,1113 795,900" fill="#aeaca8"/>
<polygon points="809,753.3 823,752 823,1114 805,1113" fill="#b8b6b2"/>
<polygon points="841,750 852,749 852,1116 841,1115" fill="#c8c6c2"/>
<polygon points="852,749 869,747 869,1118 852,1116" fill="#c3c1bd"/>
<rect x="813.6" y="820" width="5.6" height="38" fill="#fbfbfb"/>
<rect x="813.6" y="954" width="5.6" height="38" fill="#fbfbfb"/>
<rect x="844.4" y="892.6" width="4" height="77" rx="1.6" fill="#8c8c8a"/>
<ellipse cx="825.5" cy="1104.5" rx="4.6" ry="4.6" fill="#a4a4a2"/><ellipse cx="825.5" cy="1104.5" rx="2.8" ry="3" fill="#3c3c3a"/>
<ellipse cx="851.5" cy="1114" rx="3.2" ry="3.6" fill="#4a4a48"/>
<!-- bottom lip (bullnose) : light part -->
<path d="M229,1230 L862,1108 L868,1130 Q878,1134 874,1140 L236,1260 Z" fill="url(#gLip)"/>
<polygon points="229,1230 862,1108 864,1116 231,1240" fill="#dcdcda"/>
<!-- underside (perforated, darker) -->
<path d="M236,1260 L874,1138 Q892,1136 889,1144 Q886,1152 875,1156.5 L240,1276 Z" fill="url(#gUnder)"/>
<polygon points="229,1230 236,1260 240,1277 234,1273 226,1236" fill="#d2d2d0"/>
</g>
<!-- ================= CABINET : TOP PANEL ================= -->
<g id="cab-top">
<!-- side strip (left) of top with vents -->
<polygon points="59,632 222,754 238,802 194,770.5 61.5,668" fill="#ececea"/>
<polygon points="61.5,664 194,766.5 238,802 194,770.5 61.5,668" fill="#cfcfcd"/>
<g stroke="#939391" stroke-width="1.3">
<line x1="83.6" y1="655.0" x2="84.8" y2="671.0"/>
<line x1="87.2" y1="657.6" x2="88.4" y2="673.8"/>
<line x1="90.8" y1="660.2" x2="92.0" y2="676.6"/>
<line x1="94.4" y1="662.8" x2="95.6" y2="679.4"/>
<line x1="98.0" y1="665.3" x2="99.2" y2="682.3"/>
<line x1="101.6" y1="667.9" x2="102.8" y2="685.1"/>
<line x1="105.2" y1="670.5" x2="106.4" y2="687.9"/>
<line x1="108.7" y1="673.1" x2="109.9" y2="690.7"/>
<line x1="112.3" y1="675.7" x2="113.5" y2="693.5"/>
<line x1="115.9" y1="678.3" x2="117.1" y2="696.3"/>
<line x1="119.5" y1="680.8" x2="120.7" y2="699.2"/>
<line x1="123.1" y1="683.4" x2="124.3" y2="702.0"/>
<line x1="126.7" y1="686.0" x2="127.9" y2="704.8"/>
<line x1="130.3" y1="688.6" x2="131.5" y2="707.6"/>
<line x1="133.9" y1="691.2" x2="135.1" y2="710.4"/>
<line x1="137.5" y1="693.8" x2="138.7" y2="713.2"/>
<line x1="141.1" y1="696.4" x2="142.3" y2="716.0"/>
<line x1="144.7" y1="698.9" x2="145.9" y2="718.9"/>
<line x1="148.3" y1="701.5" x2="149.5" y2="721.7"/>
<line x1="151.9" y1="704.1" x2="153.1" y2="724.5"/>
<line x1="155.4" y1="706.7" x2="156.6" y2="727.3"/>
<line x1="159.0" y1="709.3" x2="160.2" y2="730.1"/>
<line x1="162.6" y1="711.9" x2="163.8" y2="732.9"/>
<line x1="166.2" y1="714.4" x2="167.4" y2="735.8"/>
<line x1="169.8" y1="717.0" x2="171.0" y2="738.6"/>
<line x1="173.4" y1="719.6" x2="174.6" y2="741.4"/>
<line x1="177.0" y1="722.2" x2="178.2" y2="744.2"/>
</g>
<!-- top surface -->
<polygon points="59,631 584,602.5 902,736 225,754.5 222,753.5" fill="url(#gTop)"/>
<line x1="59.5" y1="631.8" x2="222" y2="753.8" stroke="#f9f9f7" stroke-width="1.6"/>
<!-- front lip -->
<polygon points="222,753.5 902,736 901,744.6 236,797.8 238,802.5" fill="url(#gTopLip)"/>
<polygon points="232,792.5 901,740.5 901,744.6 236,797.8" fill="#dededc"/>
<polygon points="236,797.8 869,747.2 869,751.2 238,802.5" fill="#9a9a98"/>
<polygon points="236,797.8 869,747.2 869,748.6 237,799.4" fill="#b8b8b6"/>
<!-- hatch cover -->
<path d="M270,629.6 L427,619.4 Q431,619.2 434,621 L495,642 L317,655.6 Z" fill="#595a5c"/>
<path d="M359,623.6 L427,619.4 Q431,619.2 434,621 L495,642 L407.7,648.8 Z" fill="#4a4b4d"/>
<path d="M270,629.6 L317,655.6 L495,642" stroke="#39393b" stroke-width="1.4" fill="none"/>
<rect x="299" y="624.2" width="12" height="2.6" fill="#3a3a3a" transform="rotate(-3.5 305 625)"/>
<rect x="393" y="619.2" width="12" height="2.6" fill="#333" transform="rotate(-3.5 399 620)"/>
<!-- small screws on top -->
<g fill="#6f6f6f"><ellipse cx="365" cy="657" rx="2.2" ry="1.4"/><ellipse cx="298" cy="692" rx="2.2" ry="1.4"/><ellipse cx="476" cy="650" rx="2.6" ry="1.5"/><ellipse cx="582" cy="643" rx="2.6" ry="1.5"/><ellipse cx="537.5" cy="676.5" rx="2.6" ry="1.5"/><ellipse cx="648" cy="668.5" rx="2.6" ry="1.5"/></g>
<!-- faint knockout circle -->
<ellipse cx="340" cy="673" rx="60" ry="17" fill="none" stroke="#e7e7e5" stroke-width="2.4" stroke-dasharray="50 14"/>
<ellipse cx="340" cy="673" rx="45" ry="12" fill="none" stroke="#ebebe9" stroke-width="1.6" stroke-dasharray="30 10"/>
<!-- fan grille -->
<g fill="none" stroke="#1e1e1e" stroke-linecap="butt">
<ellipse cx="561.5" cy="661" rx="62" ry="13.2" stroke-width="2.8" stroke-dasharray="34 12 18 9 40 14 22 10 36 11 20 12"/>
<ellipse cx="561.5" cy="661" rx="47" ry="9.8" stroke-width="2.2" stroke-dasharray="26 10 30 12 16 9 28 11 24 10"/>
</g>
<g fill="#1c1c1c"><polygon points="512,656 520,654 524,659 516,661"/><polygon points="598,664 608,662 612,667 602,669"/><polygon points="500,649 508,650 506,654 499,653"/><polygon points="612,655 623,657 621,661 611,659"/></g>
<ellipse cx="303.7" cy="749.6" rx="1.00" ry="0.80" fill="#b0b0ae"/>
<ellipse cx="320.1" cy="748.4" rx="0.99" ry="0.79" fill="#b0b0ae"/>
<ellipse cx="336.4" cy="747.2" rx="0.98" ry="0.79" fill="#b0b0ae"/>
<ellipse cx="352.7" cy="746.0" rx="0.98" ry="0.78" fill="#b0b0ae"/>
<ellipse cx="369.0" cy="744.8" rx="0.97" ry="0.78" fill="#b0b0ae"/>
<ellipse cx="385.3" cy="743.6" rx="0.97" ry="0.77" fill="#b0b0ae"/>
<ellipse cx="401.5" cy="742.4" rx="0.96" ry="0.77" fill="#555"/>
<ellipse cx="417.7" cy="741.2" rx="0.95" ry="0.76" fill="#b0b0ae"/>
<ellipse cx="433.9" cy="740.0" rx="0.95" ry="0.76" fill="#b0b0ae"/>
<ellipse cx="450.1" cy="738.8" rx="0.94" ry="0.75" fill="#b0b0ae"/>
<ellipse cx="466.2" cy="737.6" rx="0.94" ry="0.75" fill="#b0b0ae"/>
<ellipse cx="482.3" cy="736.5" rx="0.93" ry="0.74" fill="#b0b0ae"/>
<ellipse cx="498.3" cy="735.3" rx="0.93" ry="0.74" fill="#2a2a2a"/>
<ellipse cx="514.4" cy="734.1" rx="0.92" ry="0.74" fill="#2a2a2a"/>
<ellipse cx="530.4" cy="732.9" rx="0.91" ry="0.73" fill="#b0b0ae"/>
<ellipse cx="546.3" cy="731.8" rx="0.91" ry="0.73" fill="#b0b0ae"/>
<ellipse cx="562.3" cy="730.6" rx="0.90" ry="0.72" fill="#b0b0ae"/>
<ellipse cx="578.2" cy="729.4" rx="0.90" ry="0.72" fill="#b0b0ae"/>
<ellipse cx="594.1" cy="728.2" rx="0.89" ry="0.71" fill="#b0b0ae"/>
<ellipse cx="610.0" cy="727.1" rx="0.89" ry="0.71" fill="#b0b0ae"/>
<ellipse cx="625.8" cy="725.9" rx="0.88" ry="0.70" fill="#b0b0ae"/>
<ellipse cx="641.6" cy="724.8" rx="0.87" ry="0.70" fill="#b0b0ae"/>
<ellipse cx="657.4" cy="723.6" rx="0.87" ry="0.69" fill="#555"/>
<ellipse cx="673.1" cy="722.4" rx="0.86" ry="0.69" fill="#b0b0ae"/>
<ellipse cx="688.8" cy="721.3" rx="0.86" ry="0.69" fill="#b0b0ae"/>
<ellipse cx="704.5" cy="720.1" rx="0.85" ry="0.68" fill="#b0b0ae"/>
<ellipse cx="720.2" cy="719.0" rx="0.85" ry="0.68" fill="#b0b0ae"/>
<ellipse cx="735.8" cy="717.8" rx="0.84" ry="0.67" fill="#b0b0ae"/>
<ellipse cx="751.5" cy="716.7" rx="0.83" ry="0.67" fill="#b0b0ae"/>
<ellipse cx="767.0" cy="715.5" rx="0.83" ry="0.66" fill="#b0b0ae"/>
<ellipse cx="782.6" cy="714.4" rx="0.82" ry="0.66" fill="#b0b0ae"/>
<ellipse cx="798.1" cy="713.3" rx="0.82" ry="0.65" fill="#b0b0ae"/>
<ellipse cx="813.6" cy="712.1" rx="0.81" ry="0.65" fill="#b0b0ae"/>
<ellipse cx="829.1" cy="711.0" rx="0.81" ry="0.64" fill="#b0b0ae"/>
<ellipse cx="294.0" cy="755.3" rx="1.70" ry="1.36" fill="#b0b0ae"/>
<ellipse cx="310.4" cy="754.0" rx="1.69" ry="1.35" fill="#b0b0ae"/>
<ellipse cx="326.8" cy="752.8" rx="1.68" ry="1.34" fill="#b0b0ae"/>
<ellipse cx="343.1" cy="751.6" rx="1.67" ry="1.33" fill="#b0b0ae"/>
<ellipse cx="359.4" cy="750.3" rx="1.66" ry="1.33" fill="#b0b0ae"/>
<ellipse cx="375.7" cy="749.1" rx="1.65" ry="1.32" fill="#b0b0ae"/>
<ellipse cx="391.9" cy="747.9" rx="1.64" ry="1.31" fill="#b0b0ae"/>
<ellipse cx="408.2" cy="746.6" rx="1.63" ry="1.30" fill="#b0b0ae"/>
<ellipse cx="424.3" cy="745.4" rx="1.62" ry="1.29" fill="#b0b0ae"/>
<ellipse cx="440.5" cy="744.2" rx="1.61" ry="1.29" fill="#555"/>
<ellipse cx="456.6" cy="743.0" rx="1.60" ry="1.28" fill="#b0b0ae"/>
<ellipse cx="472.8" cy="741.7" rx="1.59" ry="1.27" fill="#2a2a2a"/>
<ellipse cx="488.8" cy="740.5" rx="1.58" ry="1.26" fill="#b0b0ae"/>
<ellipse cx="504.9" cy="739.3" rx="1.57" ry="1.26" fill="#2a2a2a"/>
<ellipse cx="520.9" cy="738.1" rx="1.56" ry="1.25" fill="#b0b0ae"/>
<ellipse cx="536.9" cy="736.9" rx="1.55" ry="1.24" fill="#b0b0ae"/>
<ellipse cx="552.9" cy="735.7" rx="1.54" ry="1.23" fill="#b0b0ae"/>
<ellipse cx="568.8" cy="734.5" rx="1.53" ry="1.22" fill="#b0b0ae"/>
<ellipse cx="584.7" cy="733.3" rx="1.52" ry="1.22" fill="#555"/>
<ellipse cx="600.6" cy="732.1" rx="1.51" ry="1.21" fill="#b0b0ae"/>
<ellipse cx="616.4" cy="730.9" rx="1.50" ry="1.20" fill="#b0b0ae"/>
<ellipse cx="632.3" cy="729.7" rx="1.49" ry="1.19" fill="#555"/>
<ellipse cx="648.0" cy="728.5" rx="1.48" ry="1.19" fill="#b0b0ae"/>
<ellipse cx="663.8" cy="727.3" rx="1.47" ry="1.18" fill="#b0b0ae"/>
<ellipse cx="679.6" cy="726.1" rx="1.46" ry="1.17" fill="#b0b0ae"/>
<ellipse cx="695.3" cy="724.9" rx="1.45" ry="1.16" fill="#555"/>
<ellipse cx="710.9" cy="723.7" rx="1.44" ry="1.15" fill="#b0b0ae"/>
<ellipse cx="726.6" cy="722.5" rx="1.43" ry="1.15" fill="#b0b0ae"/>
<ellipse cx="742.2" cy="721.4" rx="1.42" ry="1.14" fill="#b0b0ae"/>
<ellipse cx="757.8" cy="720.2" rx="1.41" ry="1.13" fill="#b0b0ae"/>
<ellipse cx="773.4" cy="719.0" rx="1.40" ry="1.12" fill="#b0b0ae"/>
<ellipse cx="788.9" cy="717.8" rx="1.39" ry="1.12" fill="#b0b0ae"/>
<ellipse cx="804.5" cy="716.6" rx="1.39" ry="1.11" fill="#b0b0ae"/>
<ellipse cx="820.0" cy="715.5" rx="1.38" ry="1.10" fill="#b0b0ae"/>
<ellipse cx="835.4" cy="714.3" rx="1.37" ry="1.09" fill="#b0b0ae"/>
<ellipse cx="300.7" cy="759.7" rx="2.39" ry="1.91" fill="#b0b0ae"/>
<ellipse cx="317.1" cy="758.5" rx="2.38" ry="1.90" fill="#b0b0ae"/>
<ellipse cx="333.4" cy="757.2" rx="2.36" ry="1.89" fill="#b0b0ae"/>
<ellipse cx="349.8" cy="755.9" rx="2.35" ry="1.88" fill="#b0b0ae"/>
<ellipse cx="366.1" cy="754.7" rx="2.34" ry="1.87" fill="#b0b0ae"/>
<ellipse cx="382.3" cy="753.4" rx="2.32" ry="1.86" fill="#b0b0ae"/>
<ellipse cx="398.6" cy="752.1" rx="2.31" ry="1.85" fill="#555"/>
<ellipse cx="414.8" cy="750.9" rx="2.29" ry="1.83" fill="#b0b0ae"/>
<ellipse cx="431.0" cy="749.6" rx="2.28" ry="1.82" fill="#2a2a2a"/>
<ellipse cx="447.1" cy="748.3" rx="2.26" ry="1.81" fill="#2a2a2a"/>
<ellipse cx="463.2" cy="747.1" rx="2.25" ry="1.80" fill="#b0b0ae"/>
<ellipse cx="479.3" cy="745.8" rx="2.24" ry="1.79" fill="#2a2a2a"/>
<ellipse cx="495.4" cy="744.6" rx="2.22" ry="1.78" fill="#b0b0ae"/>
<ellipse cx="511.4" cy="743.3" rx="2.21" ry="1.77" fill="#2a2a2a"/>
<ellipse cx="527.4" cy="742.1" rx="2.20" ry="1.76" fill="#b0b0ae"/>
<ellipse cx="543.4" cy="740.8" rx="2.18" ry="1.75" fill="#b0b0ae"/>
<ellipse cx="559.4" cy="739.6" rx="2.17" ry="1.73" fill="#b0b0ae"/>
<ellipse cx="575.3" cy="738.3" rx="2.15" ry="1.72" fill="#b0b0ae"/>
<ellipse cx="591.2" cy="737.1" rx="2.14" ry="1.71" fill="#b0b0ae"/>
<ellipse cx="607.1" cy="735.9" rx="2.13" ry="1.70" fill="#b0b0ae"/>
<ellipse cx="622.9" cy="734.6" rx="2.11" ry="1.69" fill="#b0b0ae"/>
<ellipse cx="638.7" cy="733.4" rx="2.10" ry="1.68" fill="#b0b0ae"/>
<ellipse cx="654.5" cy="732.2" rx="2.09" ry="1.67" fill="#b0b0ae"/>
<ellipse cx="670.2" cy="730.9" rx="2.07" ry="1.66" fill="#b0b0ae"/>
<ellipse cx="686.0" cy="729.7" rx="2.06" ry="1.65" fill="#b0b0ae"/>
<ellipse cx="701.7" cy="728.5" rx="2.04" ry="1.64" fill="#b0b0ae"/>
<ellipse cx="717.3" cy="727.3" rx="2.03" ry="1.63" fill="#b0b0ae"/>
<ellipse cx="733.0" cy="726.1" rx="2.02" ry="1.61" fill="#b0b0ae"/>
<ellipse cx="748.6" cy="724.8" rx="2.00" ry="1.60" fill="#b0b0ae"/>
<ellipse cx="764.2" cy="723.6" rx="1.99" ry="1.59" fill="#b0b0ae"/>
<ellipse cx="779.8" cy="722.4" rx="1.98" ry="1.58" fill="#b0b0ae"/>
<ellipse cx="795.3" cy="721.2" rx="1.96" ry="1.57" fill="#b0b0ae"/>
<ellipse cx="810.8" cy="720.0" rx="1.95" ry="1.56" fill="#555"/>
<ellipse cx="826.3" cy="718.8" rx="1.94" ry="1.55" fill="#b0b0ae"/>
<ellipse cx="841.7" cy="717.6" rx="1.92" ry="1.54" fill="#b0b0ae"/>
<ellipse cx="291.0" cy="765.5" rx="3.00" ry="2.40" fill="#b0b0ae"/>
<ellipse cx="307.4" cy="764.2" rx="2.98" ry="2.39" fill="#b0b0ae"/>
<ellipse cx="323.8" cy="762.9" rx="2.96" ry="2.37" fill="#b0b0ae"/>
<ellipse cx="340.1" cy="761.6" rx="2.95" ry="2.36" fill="#b0b0ae"/>
<ellipse cx="356.4" cy="760.3" rx="2.93" ry="2.34" fill="#b0b0ae"/>
<ellipse cx="372.7" cy="758.9" rx="2.91" ry="2.33" fill="#b0b0ae"/>
<ellipse cx="389.0" cy="757.6" rx="2.89" ry="2.32" fill="#b0b0ae"/>
<ellipse cx="405.2" cy="756.3" rx="2.88" ry="2.30" fill="#b0b0ae"/>
<ellipse cx="421.4" cy="755.0" rx="2.86" ry="2.29" fill="#b0b0ae"/>
<ellipse cx="437.6" cy="753.7" rx="2.84" ry="2.27" fill="#2a2a2a"/>
<ellipse cx="453.7" cy="752.5" rx="2.82" ry="2.26" fill="#b0b0ae"/>
<ellipse cx="469.8" cy="751.2" rx="2.81" ry="2.25" fill="#b0b0ae"/>
<ellipse cx="485.9" cy="749.9" rx="2.79" ry="2.23" fill="#b0b0ae"/>
<ellipse cx="501.9" cy="748.6" rx="2.77" ry="2.22" fill="#b0b0ae"/>
<ellipse cx="518.0" cy="747.3" rx="2.75" ry="2.20" fill="#2a2a2a"/>
<ellipse cx="534.0" cy="746.0" rx="2.74" ry="2.19" fill="#b0b0ae"/>
<ellipse cx="549.9" cy="744.7" rx="2.72" ry="2.18" fill="#b0b0ae"/>
<ellipse cx="565.9" cy="743.5" rx="2.70" ry="2.16" fill="#b0b0ae"/>
<ellipse cx="581.8" cy="742.2" rx="2.69" ry="2.15" fill="#b0b0ae"/>
<ellipse cx="597.7" cy="740.9" rx="2.67" ry="2.13" fill="#b0b0ae"/>
<ellipse cx="613.5" cy="739.6" rx="2.65" ry="2.12" fill="#b0b0ae"/>
<ellipse cx="629.4" cy="738.4" rx="2.63" ry="2.11" fill="#b0b0ae"/>
<ellipse cx="645.2" cy="737.1" rx="2.62" ry="2.09" fill="#b0b0ae"/>
<ellipse cx="660.9" cy="735.8" rx="2.60" ry="2.08" fill="#b0b0ae"/>
<ellipse cx="676.7" cy="734.6" rx="2.58" ry="2.07" fill="#b0b0ae"/>
<ellipse cx="692.4" cy="733.3" rx="2.57" ry="2.05" fill="#b0b0ae"/>
<ellipse cx="708.1" cy="732.1" rx="2.55" ry="2.04" fill="#b0b0ae"/>
<ellipse cx="723.7" cy="730.8" rx="2.53" ry="2.03" fill="#b0b0ae"/>
<ellipse cx="739.4" cy="729.5" rx="2.52" ry="2.01" fill="#b0b0ae"/>
<ellipse cx="755.0" cy="728.3" rx="2.50" ry="2.00" fill="#b0b0ae"/>
<ellipse cx="770.6" cy="727.0" rx="2.48" ry="1.99" fill="#b0b0ae"/>
<ellipse cx="786.1" cy="725.8" rx="2.46" ry="1.97" fill="#b0b0ae"/>
<ellipse cx="801.6" cy="724.6" rx="2.45" ry="1.96" fill="#b0b0ae"/>
<ellipse cx="817.1" cy="723.3" rx="2.43" ry="1.94" fill="#b0b0ae"/>
<ellipse cx="832.6" cy="722.1" rx="2.41" ry="1.93" fill="#b0b0ae"/>
<ellipse cx="300.7" cy="769.7" rx="2.39" ry="1.91" fill="#b0b0ae"/>
<ellipse cx="317.1" cy="768.3" rx="2.38" ry="1.90" fill="#b0b0ae"/>
<ellipse cx="333.4" cy="767.0" rx="2.36" ry="1.89" fill="#b0b0ae"/>
<ellipse cx="349.8" cy="765.7" rx="2.35" ry="1.88" fill="#b0b0ae"/>
<ellipse cx="366.1" cy="764.3" rx="2.34" ry="1.87" fill="#b0b0ae"/>
<ellipse cx="382.3" cy="763.0" rx="2.32" ry="1.86" fill="#b0b0ae"/>
<ellipse cx="398.6" cy="761.6" rx="2.31" ry="1.85" fill="#b0b0ae"/>
<ellipse cx="414.8" cy="760.3" rx="2.29" ry="1.83" fill="#b0b0ae"/>
<ellipse cx="431.0" cy="759.0" rx="2.28" ry="1.82" fill="#2a2a2a"/>
<ellipse cx="447.1" cy="757.6" rx="2.26" ry="1.81" fill="#b0b0ae"/>
<ellipse cx="463.2" cy="756.3" rx="2.25" ry="1.80" fill="#b0b0ae"/>
<ellipse cx="479.3" cy="755.0" rx="2.24" ry="1.79" fill="#b0b0ae"/>
<ellipse cx="495.4" cy="753.7" rx="2.22" ry="1.78" fill="#b0b0ae"/>
<ellipse cx="511.4" cy="752.3" rx="2.21" ry="1.77" fill="#b0b0ae"/>
<ellipse cx="527.4" cy="751.0" rx="2.20" ry="1.76" fill="#b0b0ae"/>
<ellipse cx="543.4" cy="749.7" rx="2.18" ry="1.75" fill="#b0b0ae"/>
<ellipse cx="559.4" cy="748.4" rx="2.17" ry="1.73" fill="#b0b0ae"/>
<ellipse cx="575.3" cy="747.1" rx="2.15" ry="1.72" fill="#b0b0ae"/>
<ellipse cx="591.2" cy="745.8" rx="2.14" ry="1.71" fill="#b0b0ae"/>
<ellipse cx="607.1" cy="744.4" rx="2.13" ry="1.70" fill="#b0b0ae"/>
<ellipse cx="622.9" cy="743.1" rx="2.11" ry="1.69" fill="#b0b0ae"/>
<ellipse cx="638.7" cy="741.8" rx="2.10" ry="1.68" fill="#b0b0ae"/>
<ellipse cx="654.5" cy="740.5" rx="2.09" ry="1.67" fill="#b0b0ae"/>
<ellipse cx="670.2" cy="739.2" rx="2.07" ry="1.66" fill="#b0b0ae"/>
<ellipse cx="686.0" cy="737.9" rx="2.06" ry="1.65" fill="#b0b0ae"/>
<ellipse cx="701.7" cy="736.6" rx="2.04" ry="1.64" fill="#b0b0ae"/>
<ellipse cx="717.3" cy="735.4" rx="2.03" ry="1.63" fill="#b0b0ae"/>
<ellipse cx="733.0" cy="734.1" rx="2.02" ry="1.61" fill="#b0b0ae"/>
<ellipse cx="748.6" cy="732.8" rx="2.00" ry="1.60" fill="#b0b0ae"/>
<ellipse cx="764.2" cy="731.5" rx="1.99" ry="1.59" fill="#b0b0ae"/>
<ellipse cx="779.8" cy="730.2" rx="1.98" ry="1.58" fill="#b0b0ae"/>
<ellipse cx="795.3" cy="728.9" rx="1.96" ry="1.57" fill="#b0b0ae"/>
<ellipse cx="810.8" cy="727.7" rx="1.95" ry="1.56" fill="#b0b0ae"/>
<ellipse cx="826.3" cy="726.4" rx="1.94" ry="1.55" fill="#b0b0ae"/>
<ellipse cx="841.7" cy="725.1" rx="1.92" ry="1.54" fill="#b0b0ae"/>
<ellipse cx="294.0" cy="775.2" rx="1.70" ry="1.36" fill="#b0b0ae"/>
<ellipse cx="310.4" cy="773.9" rx="1.69" ry="1.35" fill="#b0b0ae"/>
<ellipse cx="326.8" cy="772.5" rx="1.68" ry="1.34" fill="#b0b0ae"/>
<ellipse cx="343.1" cy="771.1" rx="1.67" ry="1.33" fill="#b0b0ae"/>
<ellipse cx="359.4" cy="769.7" rx="1.66" ry="1.33" fill="#555"/>
<ellipse cx="375.7" cy="768.3" rx="1.65" ry="1.32" fill="#b0b0ae"/>
<ellipse cx="391.9" cy="767.0" rx="1.64" ry="1.31" fill="#b0b0ae"/>
<ellipse cx="408.2" cy="765.6" rx="1.63" ry="1.30" fill="#b0b0ae"/>
<ellipse cx="424.3" cy="764.2" rx="1.62" ry="1.29" fill="#b0b0ae"/>
<ellipse cx="440.5" cy="762.8" rx="1.61" ry="1.29" fill="#b0b0ae"/>
<ellipse cx="456.6" cy="761.5" rx="1.60" ry="1.28" fill="#2a2a2a"/>
<ellipse cx="472.8" cy="760.1" rx="1.59" ry="1.27" fill="#b0b0ae"/>
<ellipse cx="488.8" cy="758.7" rx="1.58" ry="1.26" fill="#2a2a2a"/>
<ellipse cx="504.9" cy="757.4" rx="1.57" ry="1.26" fill="#2a2a2a"/>
<ellipse cx="520.9" cy="756.0" rx="1.56" ry="1.25" fill="#b0b0ae"/>
<ellipse cx="536.9" cy="754.7" rx="1.55" ry="1.24" fill="#b0b0ae"/>
<ellipse cx="552.9" cy="753.3" rx="1.54" ry="1.23" fill="#b0b0ae"/>
<ellipse cx="568.8" cy="752.0" rx="1.53" ry="1.22" fill="#555"/>
<ellipse cx="584.7" cy="750.6" rx="1.52" ry="1.22" fill="#b0b0ae"/>
<ellipse cx="600.6" cy="749.3" rx="1.51" ry="1.21" fill="#b0b0ae"/>
<ellipse cx="616.4" cy="747.9" rx="1.50" ry="1.20" fill="#b0b0ae"/>
<ellipse cx="632.3" cy="746.6" rx="1.49" ry="1.19" fill="#b0b0ae"/>
<ellipse cx="648.0" cy="745.3" rx="1.48" ry="1.19" fill="#b0b0ae"/>
<ellipse cx="663.8" cy="743.9" rx="1.47" ry="1.18" fill="#b0b0ae"/>
<ellipse cx="679.6" cy="742.6" rx="1.46" ry="1.17" fill="#555"/>
<ellipse cx="695.3" cy="741.3" rx="1.45" ry="1.16" fill="#b0b0ae"/>
<ellipse cx="710.9" cy="739.9" rx="1.44" ry="1.15" fill="#b0b0ae"/>
<ellipse cx="726.6" cy="738.6" rx="1.43" ry="1.15" fill="#b0b0ae"/>
<ellipse cx="742.2" cy="737.3" rx="1.42" ry="1.14" fill="#b0b0ae"/>
<ellipse cx="757.8" cy="736.0" rx="1.41" ry="1.13" fill="#b0b0ae"/>
<ellipse cx="773.4" cy="734.6" rx="1.40" ry="1.12" fill="#b0b0ae"/>
<ellipse cx="788.9" cy="733.3" rx="1.39" ry="1.12" fill="#555"/>
<ellipse cx="804.5" cy="732.0" rx="1.39" ry="1.11" fill="#b0b0ae"/>
<ellipse cx="820.0" cy="730.7" rx="1.38" ry="1.10" fill="#b0b0ae"/>
<ellipse cx="835.4" cy="729.4" rx="1.37" ry="1.09" fill="#b0b0ae"/>
<ellipse cx="303.7" cy="779.4" rx="1.00" ry="0.80" fill="#b0b0ae"/>
<ellipse cx="320.1" cy="778.0" rx="0.99" ry="0.79" fill="#b0b0ae"/>
<ellipse cx="336.4" cy="776.6" rx="0.98" ry="0.79" fill="#b0b0ae"/>
<ellipse cx="352.7" cy="775.1" rx="0.98" ry="0.78" fill="#b0b0ae"/>
<ellipse cx="369.0" cy="773.7" rx="0.97" ry="0.78" fill="#b0b0ae"/>
<ellipse cx="385.3" cy="772.3" rx="0.97" ry="0.77" fill="#b0b0ae"/>
<ellipse cx="401.5" cy="770.9" rx="0.96" ry="0.77" fill="#b0b0ae"/>
<ellipse cx="417.7" cy="769.5" rx="0.95" ry="0.76" fill="#b0b0ae"/>
<ellipse cx="433.9" cy="768.1" rx="0.95" ry="0.76" fill="#2a2a2a"/>
<ellipse cx="450.1" cy="766.7" rx="0.94" ry="0.75" fill="#b0b0ae"/>
<ellipse cx="466.2" cy="765.3" rx="0.94" ry="0.75" fill="#b0b0ae"/>
<ellipse cx="482.3" cy="763.9" rx="0.93" ry="0.74" fill="#b0b0ae"/>
<ellipse cx="498.3" cy="762.5" rx="0.93" ry="0.74" fill="#555"/>
<ellipse cx="514.4" cy="761.1" rx="0.92" ry="0.74" fill="#2a2a2a"/>
<ellipse cx="530.4" cy="759.7" rx="0.91" ry="0.73" fill="#b0b0ae"/>
<ellipse cx="546.3" cy="758.3" rx="0.91" ry="0.73" fill="#b0b0ae"/>
<ellipse cx="562.3" cy="756.9" rx="0.90" ry="0.72" fill="#b0b0ae"/>
<ellipse cx="578.2" cy="755.5" rx="0.90" ry="0.72" fill="#b0b0ae"/>
<ellipse cx="594.1" cy="754.1" rx="0.89" ry="0.71" fill="#b0b0ae"/>
<ellipse cx="610.0" cy="752.8" rx="0.89" ry="0.71" fill="#b0b0ae"/>
<ellipse cx="625.8" cy="751.4" rx="0.88" ry="0.70" fill="#b0b0ae"/>
<ellipse cx="641.6" cy="750.0" rx="0.87" ry="0.70" fill="#b0b0ae"/>
<ellipse cx="657.4" cy="748.6" rx="0.87" ry="0.69" fill="#b0b0ae"/>
<ellipse cx="673.1" cy="747.3" rx="0.86" ry="0.69" fill="#b0b0ae"/>
<ellipse cx="688.8" cy="745.9" rx="0.86" ry="0.69" fill="#b0b0ae"/>
<ellipse cx="704.5" cy="744.5" rx="0.85" ry="0.68" fill="#b0b0ae"/>
<ellipse cx="720.2" cy="743.2" rx="0.85" ry="0.68" fill="#b0b0ae"/>
<ellipse cx="735.8" cy="741.8" rx="0.84" ry="0.67" fill="#b0b0ae"/>
<ellipse cx="751.5" cy="740.5" rx="0.83" ry="0.67" fill="#b0b0ae"/>
<ellipse cx="767.0" cy="739.1" rx="0.83" ry="0.66" fill="#b0b0ae"/>
<ellipse cx="782.6" cy="737.8" rx="0.82" ry="0.66" fill="#b0b0ae"/>
<ellipse cx="798.1" cy="736.4" rx="0.82" ry="0.65" fill="#b0b0ae"/>
<ellipse cx="813.6" cy="735.1" rx="0.81" ry="0.65" fill="#b0b0ae"/>
<ellipse cx="829.1" cy="733.7" rx="0.81" ry="0.64" fill="#b0b0ae"/>
<!-- logo -->
<g transform="translate(240.5,779.5) rotate(-3)">
<text x="0" y="0" font-size="17.5" font-weight="bold" fill="#3a3a3a" textLength="46" lengthAdjust="spacingAndGlyphs">MOJO</text>
<text x="1" y="-12.5" font-size="7" font-style="italic" fill="#666" textLength="12" lengthAdjust="spacingAndGlyphs">Tec</text>
</g>
</g>
<!-- screws -->
<g fill="#1e1e1e" id="screws">
<ellipse cx="61.4" cy="655" rx="2.8" ry="4.8"/><ellipse cx="67.8" cy="661.6" rx="2.8" ry="4.8"/>
<ellipse cx="198.2" cy="764.6" rx="3.8" ry="7.6"/><ellipse cx="210" cy="773.3" rx="3.8" ry="7.6"/>
<ellipse cx="65.1" cy="1012.3" rx="2.6" ry="4.2"/><ellipse cx="72.6" cy="1024.2" rx="2.8" ry="4.4"/>
<ellipse cx="121.1" cy="1030.7" rx="3" ry="4.6"/>
<ellipse cx="200.9" cy="1211.7" rx="3.8" ry="7"/><ellipse cx="212.8" cy="1228" rx="3.8" ry="7"/>
<ellipse cx="250.5" cy="1218.2" rx="3.4" ry="3.8"/>
<circle cx="134.6" cy="1030" r="1.2"/><circle cx="245" cy="1241" r="1.1"/>
<ellipse cx="295" cy="801" rx="3" ry="1.3"/>
</g>
<!-- ================= DOOR ================= -->
<g id="door">
<!-- hinge panel -->
<polygon points="871,752 924,765 918,1148 880,1143 866,1130" fill="#c9c7c3"/>
<polygon points="871,752 888,756 884,1144 880,1143 866,1130" fill="#d1cfcc"/>
<!-- glass left edge strip -->
<polygon points="923,766 946.5,766 940.5,1148 916.5,1145" fill="#8a8a88"/>
<polygon points="923,766 926,766 919.5,1146 916.5,1145" fill="#a4a4a2"/>
<polygon points="920.2,944 943.7,944 943,989 919.5,987" fill="#6e6e6c"/>
<polygon points="920.8,900 944.3,900 944,922 920.5,922" fill="#939391"/>
<polygon points="919,1100 942,1100 940.5,1148 917,1145" fill="#9c9c9a"/>
<g stroke="#a8a8a8" stroke-width="0.8" opacity="0.8"><line x1="923" y1="1065" x2="938" y2="1065"/><line x1="923" y1="1069" x2="938" y2="1069"/><line x1="923" y1="1073" x2="938" y2="1073"/><line x1="923" y1="1077" x2="938" y2="1077"/><line x1="923" y1="1081" x2="938" y2="1081"/><line x1="923" y1="1085" x2="938" y2="1085"/></g>
<!-- top cap of hinge panel -->
<path d="M871,752 L901,744.5 L960,768 L960,772.3 L944.6,767 L922.4,767 L900,761 L880,755.6 Z" fill="#f5f5f3"/>
<path d="M871,752 L880,755.6 L900,761 L922.4,767 L944.6,767 L960,772.3" stroke="#c2c2c0" stroke-width="1" fill="none"/>
<!-- bottom of hinge panel -->
<polygon points="866,1130 880,1143 918,1148 940.5,1148 940,1155 905,1158 884,1152 866,1136" fill="#e9e9e7"/>
<!-- glass top edge -->
<polygon points="955,764 1366,875 1366,877.2 955,768.5" fill="#6f6f6f"/>
<!-- glass bottom edge -->
<line x1="940.5" y1="1148.5" x2="1351" y2="1358.5" stroke="#6a6a6a" stroke-width="1.1"/>
<!-- hinges -->
<g>
<rect x="880" y="761" width="12.4" height="50" rx="2" fill="#a9a9a7"/>
<line x1="886.2" y1="772" x2="886.2" y2="808" stroke="#e0e0de" stroke-width="9" stroke-dasharray="1.2 2"/>
<rect x="882.5" y="760" width="7" height="11" fill="#c4c4c2"/><rect x="880.5" y="770" width="11.4" height="2.4" fill="#222"/>
<path d="M874,806 l2,12 l14,-4 l3,-8" stroke="#dcdcda" stroke-width="3" fill="none"/>
<rect x="868.5" y="1063" width="11.4" height="50" rx="2" fill="#a9a9a7"/>
<line x1="874.2" y1="1068" x2="874.2" y2="1100" stroke="#e0e0de" stroke-width="8.4" stroke-dasharray="1.2 2"/>
<rect x="870.8" y="1099" width="7" height="12" fill="#c8c8c6"/><rect x="869" y="1103" width="10.6" height="2.4" fill="#333"/>
<rect x="866" y="1110" width="15" height="7" rx="2" fill="#dcdcda"/>
<!-- studs -->
<polygon points="898,793.5 911,797.5 910,803 897.5,799" fill="#7a5a4a"/>
<circle cx="913.5" cy="797.5" r="5" fill="#c9c9c7"/><circle cx="914.2" cy="797.5" r="2.6" fill="#e6e6e4"/>
<circle cx="914" cy="810.7" r="3.8" fill="#e9dcdc" stroke="#c77" stroke-width="0.9"/>
<polygon points="888,1084 900,1087.5 899,1093 887.5,1089.5" fill="#7a5a4a"/>
<circle cx="902" cy="1087.5" r="5" fill="#c9c9c7"/><circle cx="902.6" cy="1087.5" r="2.6" fill="#e6e6e4"/>
<circle cx="902" cy="1069" r="3.6" fill="#e9dcdc" stroke="#c77" stroke-width="0.9"/>
</g>
<!-- ===== right frame ===== -->
<!-- glass right strip -->
<polygon points="1372,888 1400,896 1381,1366 1350.5,1358.4" fill="url(#gGlassR)"/>
<polygon points="1369.5,950 1397.5,955 1395.5,1000 1367.5,994" fill="#8a8a8a" opacity="0.5"/>
<!-- gap + gasket strip -->
<polygon points="1400,896 1409,899 1387,1366 1381,1366" fill="#7a7a78"/>
<polygon points="1401.5,914 1408,914 1387,1352 1380.5,1352" fill="#c4c4c2"/>
<line x1="1401.7" y1="914" x2="1380.7" y2="1352" stroke="#f2f2f0" stroke-width="1.2"/>
<!-- inner face -->
<polygon points="1409,899 1458,910 1428,1425 1386,1378 1387,1352" fill="url(#gFrIn)"/>
<!-- edge face -->
<polygon points="1458,910 1486,900 1466,1433 1433,1433 1428,1425" fill="url(#gFrEd)"/>

<line x1="1486" y1="900" x2="1466" y2="1433" stroke="#c6c6c4" stroke-width="1.2"/>
<!-- top cap -->
<polygon points="1366,875 1372.6,878 1457,896 1486,900 1464,911 1447.4,908.6 1408.8,898.5 1372.3,888.3" fill="#f9f9f7"/>
<polyline points="1372.3,888.3 1408.8,898.5 1447.4,908.6 1464,911 1486,900" stroke="#cfcfcd" stroke-width="1" fill="none"/>
<ellipse cx="1468.5" cy="900.5" rx="3" ry="1.2" fill="#c4c4c2"/>
<!-- foot -->
<polygon points="1344.5,1358.4 1381,1366 1386,1378 1428,1425 1433,1433 1400,1402 1354.5,1378.5" fill="#e4e4e2"/>
<polyline points="1344.5,1358.4 1354.5,1378.5 1400,1402" stroke="#c9c9c7" stroke-width="1" fill="none"/>
<!-- bumps -->
<g fill="#e2e2e0" stroke="#bdbdbb" stroke-width="0.9"><ellipse cx="1449.5" cy="941" rx="6.6" ry="7.4"/><ellipse cx="1439.3" cy="1169.3" rx="6.6" ry="7.4"/><ellipse cx="1427" cy="1390.5" rx="6.6" ry="7.4"/></g>
<!-- latch -->
<g>
<polygon points="1400,1113.4 1434.3,1121.7 1431.8,1174.3 1396,1166" fill="#c6c4bf" stroke="#a4a29e" stroke-width="0.8"/>
<path d="M1379.2,1111 Q1384,1106 1390,1108.8 L1400,1121.7 L1398.4,1163.5 L1380,1165 L1376,1138.4 Z" fill="#b3b0ab" stroke="#8e8c88" stroke-width="0.9"/>
<path d="M1402,1126 L1414,1122 L1424,1136 L1422,1158 L1410,1166 L1401,1154 Z" fill="#7c7a76" stroke="#5c5a56" stroke-width="0.9"/>
<path d="M1405,1136 L1414,1132 L1418,1144 L1412,1156 L1404,1152 Z" fill="#4e4c48"/>
<path d="M1402,1126 L1414,1122 L1424,1136 L1416,1128 L1405,1131 Z" fill="#d2d0cc"/>
<ellipse cx="1383.4" cy="1153.5" rx="9.4" ry="10.8" fill="#8a8884"/>
<ellipse cx="1383" cy="1153" rx="7.6" ry="9" fill="#d4d2ce"/>
<ellipse cx="1385.5" cy="1150" rx="3" ry="3.6" fill="#f4f4f2"/>
<path d="M1378,1150 l5,4 m-4,3 l5,-2" stroke="#7a7874" stroke-width="1"/>
</g>
</g>
<!-- ================= MAGNIFIER ================= -->
<g id="mag">
<g clip-path="url(#cMag)">
<rect x="1080" y="430" width="325" height="320" fill="#c6c6c4"/>
<polygon points="1080,560 1174,520 1174,750 1080,750" fill="#c8c8c6"/>
<polygon points="1080,430 1174,430 1174,518 1080,556" fill="#c0c0be"/>
<!-- rail face with square holes -->
<rect x="1174" y="430" width="36" height="320" fill="#cbcbc9"/>
<g fill="#bfbfbd">
<polygon points="1180,432 1208,432 1208,458 1180,452"/>
<polygon points="1180,474 1208,480 1208,510 1180,506"/>
<polygon points="1180,530 1208,536 1208,566 1180,562"/>
<polygon points="1180,585 1208,590 1208,621 1180,617"/>
<polygon points="1180,629 1208,635 1208,666 1180,661"/>
<polygon points="1180,684 1208,690 1208,722 1180,717"/>
</g>
<g fill="#d2d2d0"><polygon points="1184,588 1208,592 1208,620 1184,616"/><polygon points="1184,633 1208,638 1208,665 1184,660"/><polygon points="1184,687 1208,692 1208,721 1184,716"/></g>
<g stroke="#8e8e8c" stroke-width="2" fill="none">
<path d="M1181,474 V506"/><path d="M1181,530 V562"/><path d="M1181,585 V617"/><path d="M1181,629 V661"/><path d="M1181,684 V717"/><path d="M1181,432 V452"/>
</g>
<g stroke="#a8a8a6" stroke-width="1.2" fill="none">
<path d="M1180,506 L1208,510"/><path d="M1180,562 L1208,566"/><path d="M1180,617 L1208,621"/><path d="M1180,661 L1208,666"/><path d="M1180,717 L1208,722"/><path d="M1180,452 L1208,458"/>
</g>
<!-- rail face with numbers -->
<rect x="1210" y="430" width="47" height="320" fill="#c6c6c4"/>
<!-- rail side face with round holes -->
<rect x="1257" y="430" width="49" height="320" fill="#b9b9b7"/>
<rect x="1257" y="430" width="16" height="320" fill="#c0c0be"/>
<g fill="#7a7a78" stroke="#dededc" stroke-width="1.8">
<ellipse cx="1292.3" cy="450" rx="3.6" ry="6.4"/><ellipse cx="1292.3" cy="492.6" rx="3.6" ry="6.4"/><ellipse cx="1292.3" cy="547.2" rx="3.6" ry="6.4"/><ellipse cx="1292.3" cy="602.3" rx="3.6" ry="6.4"/><ellipse cx="1292.3" cy="644" rx="3.6" ry="6.4"/><ellipse cx="1292.3" cy="698" rx="3.6" ry="6.4"/>
</g>
<!-- right background -->
<rect x="1305" y="430" width="100" height="320" fill="url(#gMagR)"/>
<polygon points="1308,655 1340,668 1372,652 1400,660 1400,750 1308,750" fill="#c2c2c0" opacity="0.75"/>
<path d="M1310,650 q10,20 4,44 M1322,662 q8,14 2,30" stroke="#8e8e8c" stroke-width="2.4" fill="none"/>
<!-- tick marks and numbers -->
<g stroke="#555" stroke-width="0.9"><line x1="1216" y1="477" x2="1229" y2="478.5"/><line x1="1266" y1="476.5" x2="1277" y2="473.5"/><line x1="1217" y1="636.5" x2="1231" y2="639"/><line x1="1269" y1="634" x2="1278" y2="630.5"/><line x1="1217.5" y1="554.8" x2="1230.5" y2="556"/><line x1="1218.5" y1="711.5" x2="1231.5" y2="713"/><line x1="1268.5" y1="554" x2="1276.5" y2="552.6"/><line x1="1269" y1="712" x2="1277" y2="710.6"/></g>
<g font-size="9.5" fill="#555">
<text x="1217.5" y="553" textLength="12.5" lengthAdjust="spacingAndGlyphs">07</text>
<text transform="translate(1230.5,558) rotate(180)" textLength="12.5" lengthAdjust="spacingAndGlyphs">03</text>
<text x="1219" y="709.5" textLength="12.5" lengthAdjust="spacingAndGlyphs">06</text>
<text transform="translate(1232,715) rotate(180)" textLength="12.5" lengthAdjust="spacingAndGlyphs">04</text>
<text transform="translate(1268.5,551.5) rotate(-8)" font-size="9" textLength="7.5" lengthAdjust="spacingAndGlyphs">07</text>
<text transform="translate(1276.5,555) rotate(172)" font-size="9" textLength="7.5" lengthAdjust="spacingAndGlyphs">03</text>
<text transform="translate(1269,709.5) rotate(-8)" font-size="9" textLength="7.5" lengthAdjust="spacingAndGlyphs">06</text>
<text transform="translate(1277,713) rotate(172)" font-size="9" textLength="7.5" lengthAdjust="spacingAndGlyphs">04</text>
</g>
</g>
<circle cx="1241" cy="588.8" r="155" fill="none" stroke="#e2771f" stroke-width="6.2"/>
</g>
<!-- ================= TECHNICAL DRAWING ================= -->
<g id="tech">
<!-- dimension texts -->
<text x="160.5" y="412.8" font-size="18.7" fill="#111" textLength="45" lengthAdjust="spacingAndGlyphs">3.37″</text>
<text x="412" y="412.8" font-size="18.7" fill="#111" textLength="27" lengthAdjust="spacingAndGlyphs">12″</text>
<text x="602.5" y="412.8" font-size="18.7" fill="#111" textLength="45" lengthAdjust="spacingAndGlyphs">2.25″</text>
<!-- dimension line -->
<line x1="131.5" y1="419.3" x2="659" y2="419.3" class="k" stroke-width="0.9"/>
<line x1="131.5" y1="416" x2="131.5" y2="468" class="k" stroke-width="0.8"/>
<line x1="232.5" y1="416" x2="232.5" y2="477" class="k" stroke-width="0.8"/>
<line x1="591.7" y1="416" x2="591.7" y2="525" class="k" stroke-width="0.8"/>
<line x1="659" y1="416" x2="659" y2="444" class="k" stroke-width="0.8"/>
<polygon points="131.5,419.3 144,417.3 144,421.3" fill="#111"/>
<polygon points="232.5,419.3 220,417.3 220,421.3" fill="#111"/>
<polygon points="232.5,419.3 245,417.3 245,421.3" fill="#111"/>
<polygon points="591.7,419.3 579,417.3 579,421.3" fill="#111"/>
<polygon points="591.7,419.3 604,417.3 604,421.3" fill="#111"/>
<polygon points="659,419.3 646.5,417.3 646.5,421.3" fill="#111"/>
<!-- front door part -->
<polyline points="131.6,477 131.6,468 157,444.6 232,444.6" class="kt" stroke-width="1.6"/>
<line x1="131.6" y1="477.2" x2="161" y2="477.2" class="kt" stroke-width="1.6"/>
<line x1="162.5" y1="445" x2="162.5" y2="525" class="k"/>
<line x1="164.6" y1="445" x2="164.6" y2="525" class="k" stroke-width="0.7"/>
<line x1="161" y1="477" x2="161" y2="488" class="kt" stroke-width="1.6"/>
<line x1="172" y1="445" x2="172" y2="525" class="k" stroke-width="0.8"/>
<line x1="174" y1="446.5" x2="174" y2="525" class="k"/>
<line x1="174" y1="446.6" x2="230" y2="446.6" class="k"/>
<line x1="229.7" y1="446" x2="229.7" y2="525" class="kt" stroke-width="1.6"/>
<line x1="232" y1="478" x2="232" y2="525" class="k" stroke-width="0.8"/>
<line x1="131.8" y1="477" x2="131.8" y2="525" class="k"/>
<polyline points="133.6,525 133.6,481.3 157,481.3 157,525" class="k" stroke-width="0.8"/>
<line x1="158.7" y1="481" x2="158.7" y2="525" class="k" stroke-width="0.8"/>
<rect x="159.5" y="509" width="2" height="12" rx="1" class="k" stroke-width="0.7"/>
<circle cx="184.8" cy="467.3" r="6.4" class="k" stroke-width="0.9"/>
<circle cx="184.8" cy="467.3" r="3" class="k" stroke-width="1.3"/>
<circle cx="214.1" cy="467.3" r="6.4" class="k" stroke-width="0.9"/>
<circle cx="214.1" cy="467.3" r="3" class="k" stroke-width="1.3"/>
<!-- top panel -->
<line x1="232" y1="444.6" x2="660" y2="444.6" class="kt" stroke-width="1.8"/>
<line x1="232" y1="446.8" x2="603" y2="446.8" class="k" stroke-width="0.7"/>
<line x1="231" y1="476.8" x2="603" y2="476.8" class="kt" stroke-width="2"/>
<line x1="234" y1="479" x2="591" y2="479" class="k" stroke-width="0.7"/>
<line x1="602.8" y1="445" x2="602.8" y2="525" class="kt" stroke-width="1.8"/>
<path d="M265.5 450.5 L279.5 470.8" stroke="#222" stroke-width="3.4" stroke-linecap="round" fill="none"/><path d="M265.5 450.5 L279.5 470.8" stroke="#fff" stroke-width="1.9" stroke-linecap="round" fill="none"/>
<path d="M276.6 450.5 L290.6 470.8" stroke="#222" stroke-width="3.4" stroke-linecap="round" fill="none"/><path d="M276.6 450.5 L290.6 470.8" stroke="#fff" stroke-width="1.9" stroke-linecap="round" fill="none"/>
<path d="M287.6 450.5 L301.6 470.8" stroke="#222" stroke-width="3.4" stroke-linecap="round" fill="none"/><path d="M287.6 450.5 L301.6 470.8" stroke="#fff" stroke-width="1.9" stroke-linecap="round" fill="none"/>
<path d="M298.7 450.5 L312.7 470.8" stroke="#222" stroke-width="3.4" stroke-linecap="round" fill="none"/><path d="M298.7 450.5 L312.7 470.8" stroke="#fff" stroke-width="1.9" stroke-linecap="round" fill="none"/>
<path d="M309.7 450.5 L323.7 470.8" stroke="#222" stroke-width="3.4" stroke-linecap="round" fill="none"/><path d="M309.7 450.5 L323.7 470.8" stroke="#fff" stroke-width="1.9" stroke-linecap="round" fill="none"/>
<path d="M320.8 450.5 L334.8 470.8" stroke="#222" stroke-width="3.4" stroke-linecap="round" fill="none"/><path d="M320.8 450.5 L334.8 470.8" stroke="#fff" stroke-width="1.9" stroke-linecap="round" fill="none"/>
<path d="M331.8 450.5 L345.8 470.8" stroke="#222" stroke-width="3.4" stroke-linecap="round" fill="none"/><path d="M331.8 450.5 L345.8 470.8" stroke="#fff" stroke-width="1.9" stroke-linecap="round" fill="none"/>
<path d="M342.9 450.5 L356.9 470.8" stroke="#222" stroke-width="3.4" stroke-linecap="round" fill="none"/><path d="M342.9 450.5 L356.9 470.8" stroke="#fff" stroke-width="1.9" stroke-linecap="round" fill="none"/>
<path d="M354.0 450.5 L368.0 470.8" stroke="#222" stroke-width="3.4" stroke-linecap="round" fill="none"/><path d="M354.0 450.5 L368.0 470.8" stroke="#fff" stroke-width="1.9" stroke-linecap="round" fill="none"/>
<path d="M365.0 450.5 L379.0 470.8" stroke="#222" stroke-width="3.4" stroke-linecap="round" fill="none"/><path d="M365.0 450.5 L379.0 470.8" stroke="#fff" stroke-width="1.9" stroke-linecap="round" fill="none"/>
<path d="M376.1 450.5 L390.1 470.8" stroke="#222" stroke-width="3.4" stroke-linecap="round" fill="none"/><path d="M376.1 450.5 L390.1 470.8" stroke="#fff" stroke-width="1.9" stroke-linecap="round" fill="none"/>
<path d="M387.1 450.5 L401.1 470.8" stroke="#222" stroke-width="3.4" stroke-linecap="round" fill="none"/><path d="M387.1 450.5 L401.1 470.8" stroke="#fff" stroke-width="1.9" stroke-linecap="round" fill="none"/>
<path d="M398.2 450.5 L412.2 470.8" stroke="#222" stroke-width="3.4" stroke-linecap="round" fill="none"/><path d="M398.2 450.5 L412.2 470.8" stroke="#fff" stroke-width="1.9" stroke-linecap="round" fill="none"/>
<path d="M409.2 450.5 L423.2 470.8" stroke="#222" stroke-width="3.4" stroke-linecap="round" fill="none"/><path d="M409.2 450.5 L423.2 470.8" stroke="#fff" stroke-width="1.9" stroke-linecap="round" fill="none"/>
<path d="M420.3 450.5 L434.3 470.8" stroke="#222" stroke-width="3.4" stroke-linecap="round" fill="none"/><path d="M420.3 450.5 L434.3 470.8" stroke="#fff" stroke-width="1.9" stroke-linecap="round" fill="none"/>
<path d="M431.4 450.5 L445.4 470.8" stroke="#222" stroke-width="3.4" stroke-linecap="round" fill="none"/><path d="M431.4 450.5 L445.4 470.8" stroke="#fff" stroke-width="1.9" stroke-linecap="round" fill="none"/>
<path d="M442.4 450.5 L456.4 470.8" stroke="#222" stroke-width="3.4" stroke-linecap="round" fill="none"/><path d="M442.4 450.5 L456.4 470.8" stroke="#fff" stroke-width="1.9" stroke-linecap="round" fill="none"/>
<path d="M453.5 450.5 L467.5 470.8" stroke="#222" stroke-width="3.4" stroke-linecap="round" fill="none"/><path d="M453.5 450.5 L467.5 470.8" stroke="#fff" stroke-width="1.9" stroke-linecap="round" fill="none"/>
<path d="M464.5 450.5 L478.5 470.8" stroke="#222" stroke-width="3.4" stroke-linecap="round" fill="none"/><path d="M464.5 450.5 L478.5 470.8" stroke="#fff" stroke-width="1.9" stroke-linecap="round" fill="none"/>
<path d="M475.6 450.5 L489.6 470.8" stroke="#222" stroke-width="3.4" stroke-linecap="round" fill="none"/><path d="M475.6 450.5 L489.6 470.8" stroke="#fff" stroke-width="1.9" stroke-linecap="round" fill="none"/>
<path d="M486.7 450.5 L500.7 470.8" stroke="#222" stroke-width="3.4" stroke-linecap="round" fill="none"/><path d="M486.7 450.5 L500.7 470.8" stroke="#fff" stroke-width="1.9" stroke-linecap="round" fill="none"/>
<path d="M497.7 450.5 L511.7 470.8" stroke="#222" stroke-width="3.4" stroke-linecap="round" fill="none"/><path d="M497.7 450.5 L511.7 470.8" stroke="#fff" stroke-width="1.9" stroke-linecap="round" fill="none"/>
<path d="M508.8 450.5 L522.8 470.8" stroke="#222" stroke-width="3.4" stroke-linecap="round" fill="none"/><path d="M508.8 450.5 L522.8 470.8" stroke="#fff" stroke-width="1.9" stroke-linecap="round" fill="none"/>
<path d="M519.8 450.5 L533.8 470.8" stroke="#222" stroke-width="3.4" stroke-linecap="round" fill="none"/><path d="M519.8 450.5 L533.8 470.8" stroke="#fff" stroke-width="1.9" stroke-linecap="round" fill="none"/>
<path d="M530.9 450.5 L544.9 470.8" stroke="#222" stroke-width="3.4" stroke-linecap="round" fill="none"/><path d="M530.9 450.5 L544.9 470.8" stroke="#fff" stroke-width="1.9" stroke-linecap="round" fill="none"/>
<path d="M541.9 450.5 L555.9 470.8" stroke="#222" stroke-width="3.4" stroke-linecap="round" fill="none"/><path d="M541.9 450.5 L555.9 470.8" stroke="#fff" stroke-width="1.9" stroke-linecap="round" fill="none"/>
<path d="M553.0 450.5 L567.0 470.8" stroke="#222" stroke-width="3.4" stroke-linecap="round" fill="none"/><path d="M553.0 450.5 L567.0 470.8" stroke="#fff" stroke-width="1.9" stroke-linecap="round" fill="none"/>
<!-- left rail -->
<polyline points="236,525 236,479 262.7,479 262.7,525" class="k" stroke-width="0.8"/>
<line x1="234" y1="479" x2="234" y2="525" class="k" stroke-width="0.8"/>
<circle cx="244" cy="488.6" r="2.6" class="k" stroke-width="0.9"/>
<rect x="248.6" y="494.8" width="10.6" height="10.4" class="k" stroke-width="0.8"/>
<path d="M248.6 512.2h10.6v11h-10.6v-3l-1.5-1.2v-2.6l1.5-1.2z" class="k" stroke-width="0.8"/>
<line x1="262.7" y1="501" x2="562" y2="501" class="k" stroke-width="0.8"/>
<ellipse cx="554.5" cy="489.4" rx="3.1" ry="4.4" class="k" stroke-width="0.9"/>
<ellipse cx="528.8" cy="489.4" rx="3.1" ry="4.4" class="k" stroke-width="0.9"/>
<ellipse cx="503.0" cy="489.4" rx="3.1" ry="4.4" class="k" stroke-width="0.9"/>
<ellipse cx="477.2" cy="489.4" rx="3.1" ry="4.4" class="k" stroke-width="0.9"/>
<ellipse cx="451.5" cy="489.4" rx="3.1" ry="4.4" class="k" stroke-width="0.9"/>
<ellipse cx="425.8" cy="489.4" rx="3.1" ry="4.4" class="k" stroke-width="0.9"/>
<ellipse cx="400.0" cy="489.4" rx="3.1" ry="4.4" class="k" stroke-width="0.9"/>
<ellipse cx="374.2" cy="489.4" rx="3.1" ry="4.4" class="k" stroke-width="0.9"/>
<ellipse cx="348.5" cy="489.4" rx="3.1" ry="4.4" class="k" stroke-width="0.9"/>
<ellipse cx="322.8" cy="489.4" rx="3.1" ry="4.4" class="k" stroke-width="0.9"/>
<ellipse cx="297.0" cy="489.4" rx="3.1" ry="4.4" class="k" stroke-width="0.9"/>
<ellipse cx="271.2" cy="489.4" rx="3.1" ry="4.4" class="k" stroke-width="0.9"/>
<!-- right rail -->
<polyline points="562,525 562,479 589.5,479 589.5,525" class="k" stroke-width="0.8"/>
<circle cx="580.3" cy="488.5" r="2.6" class="k" stroke-width="0.9"/>
<rect x="564.8" y="494.4" width="10.8" height="10.8" class="k" stroke-width="0.8"/>
<path d="M564.8 513h10.8v3l1.5 1.2v2.6l-1.5 1.2v3h-10.8z" class="k" stroke-width="0.8"/>
<line x1="592" y1="501.8" x2="602.5" y2="501.8" class="k" stroke-width="0.8"/>
<line x1="593.3" y1="501.8" x2="593.3" y2="525" class="k" stroke-width="0.8"/>
<!-- right bracket -->
<line x1="603" y1="445.6" x2="660" y2="445.6" class="kt" stroke-width="3"/>
<line x1="659.4" y1="444" x2="659.4" y2="477" class="kt" stroke-width="2.4"/>
<line x1="659.4" y1="477" x2="659.4" y2="525" class="k"/>
<circle cx="616.4" cy="466.8" r="6.2" class="k" stroke-width="0.9"/>
<circle cx="616.4" cy="466.8" r="2.9" class="k" stroke-width="1.3"/>
<circle cx="645.9" cy="466.8" r="6.2" class="k" stroke-width="0.9"/>
<circle cx="645.9" cy="466.8" r="2.9" class="k" stroke-width="1.3"/>
</g>
<!-- ================= ORANGE CALLOUT LINES ================= -->
<g id="callouts">
<!-- depth callout -->
<polyline points="659,546.8 130,546.8 130,737" class="os" stroke-width="2.4"/>
<circle cx="129.8" cy="737.5" r="10.6" class="of"/>
<line x1="62.6" y1="681" x2="62.6" y2="779" class="os" stroke-width="2.3"/>
<line x1="194.6" y1="785" x2="194.6" y2="889" class="os" stroke-width="2.3"/>
<line x1="78" y1="725.5" x2="178" y2="802.5" class="os" stroke-width="2.3"/>
<polygon points="64.6,715 92.3,725.9 81.4,736.8" class="of"/>
<polygon points="191,812.8 173.4,790.9 161.7,802.5" class="of"/>
<!-- rack rail callout -->
<polyline points="1084,576.3 761.2,576.3 761.2,843" class="os" stroke-width="2.2"/>
<circle cx="760.8" cy="843.4" r="10.5" class="of"/>
<circle cx="760.8" cy="917" r="49.3" class="os" stroke-width="4.6"/>
<!-- structure callout -->
<polyline points="487.5,1337 635.4,1337 635.4,1178" class="os" stroke-width="2.2"/>
<circle cx="634.8" cy="1178" r="10.6" class="of"/>
<!-- grounding callout -->
<line x1="902.2" y1="1122" x2="902.2" y2="1301.5" class="os" stroke-width="2.2"/>
<circle cx="901.7" cy="1122.3" r="10.5" class="of"/>
</g>
<!-- ================= HEADINGS ================= -->
<g id="headings">
<text x="382.5" y="54" font-size="70" font-weight="bold" class="o" textLength="713" lengthAdjust="spacingAndGlyphs">Standard Wall Mount Server Rack</text>
<text x="300" y="116.6" font-size="49" class="o" textLength="855" lengthAdjust="spacingAndGlyphs">Made of heavy duty steel, the cabinet</text>
<text x="399" y="176" font-size="49" class="o" textLength="671" lengthAdjust="spacingAndGlyphs">can hold up to 110 lbs (50 kg)</text>
</g>
<!-- ================= DEPTH LABEL ================= -->
<g id="depth">
<text x="211.5" y="313" font-size="37" class="o" textLength="387" lengthAdjust="spacingAndGlyphs">Max mountable depth</text>
<text x="610.5" y="313" font-size="37" fill="#c8202f" textLength="87" lengthAdjust="spacingAndGlyphs">14.2″</text>
<text x="368.5" y="353.5" font-size="37" class="o" textLength="158" lengthAdjust="spacingAndGlyphs">(360mm)</text>
<line x1="233" y1="351.5" x2="233" y2="383.5" class="os" stroke-width="2.2"/>
<line x1="660.5" y1="351.5" x2="660.5" y2="383.5" class="os" stroke-width="2.2"/>
<line x1="250" y1="366.5" x2="645" y2="366.5" class="os" stroke-width="2.2"/>
<polygon points="235,366.5 264,359 264,374" class="of"/>
<polygon points="659,366.5 630,359 630,374" class="of"/>
</g>
<!-- ================= FRONT DOOR ================= -->
<text x="0" y="470" font-size="35" fill="#111" textLength="84" lengthAdjust="spacingAndGlyphs">Front</text>
<text x="0" y="513" font-size="35" fill="#111" textLength="77" lengthAdjust="spacingAndGlyphs">Door</text>
<!-- ================= CALLOUT LABELS ================= -->
<g id="labels">
<text x="780" y="488" font-size="35.8" class="o" textLength="300" lengthAdjust="spacingAndGlyphs">Versatile Rack Rail</text>
<text x="785.5" y="524.3" font-size="25" class="o" textLength="281" lengthAdjust="spacingAndGlyphs">Rack Rail Can Be Square</text>
<text x="784.5" y="553.8" font-size="25" class="o" textLength="118" lengthAdjust="spacingAndGlyphs">or Tapped</text>

<text x="320.5" y="1346.4" font-size="34.6" class="o" textLength="150" lengthAdjust="spacingAndGlyphs">Structure</text>
<text x="321" y="1377.2" font-size="24.5" class="o" textLength="260" lengthAdjust="spacingAndGlyphs">Heavy duty cold rolled</text>
<text x="321" y="1406.8" font-size="24.5" class="o" textLength="168" lengthAdjust="spacingAndGlyphs">steel structure</text>

<text x="805.5" y="1334.8" font-size="33.7" class="o" textLength="245" lengthAdjust="spacingAndGlyphs">Grounding Stud</text>
<text x="807" y="1372.8" font-size="24.6" class="o" textLength="224" lengthAdjust="spacingAndGlyphs">Attach ground wire</text>
<text x="808" y="1403.6" font-size="24.6" class="o" textLength="231" lengthAdjust="spacingAndGlyphs">to prevent electrical</text>
<text x="808.4" y="1433.7" font-size="24.6" class="o" textLength="90.5" lengthAdjust="spacingAndGlyphs">hazards</text>
</g>
</svg>
</body>
</html>
